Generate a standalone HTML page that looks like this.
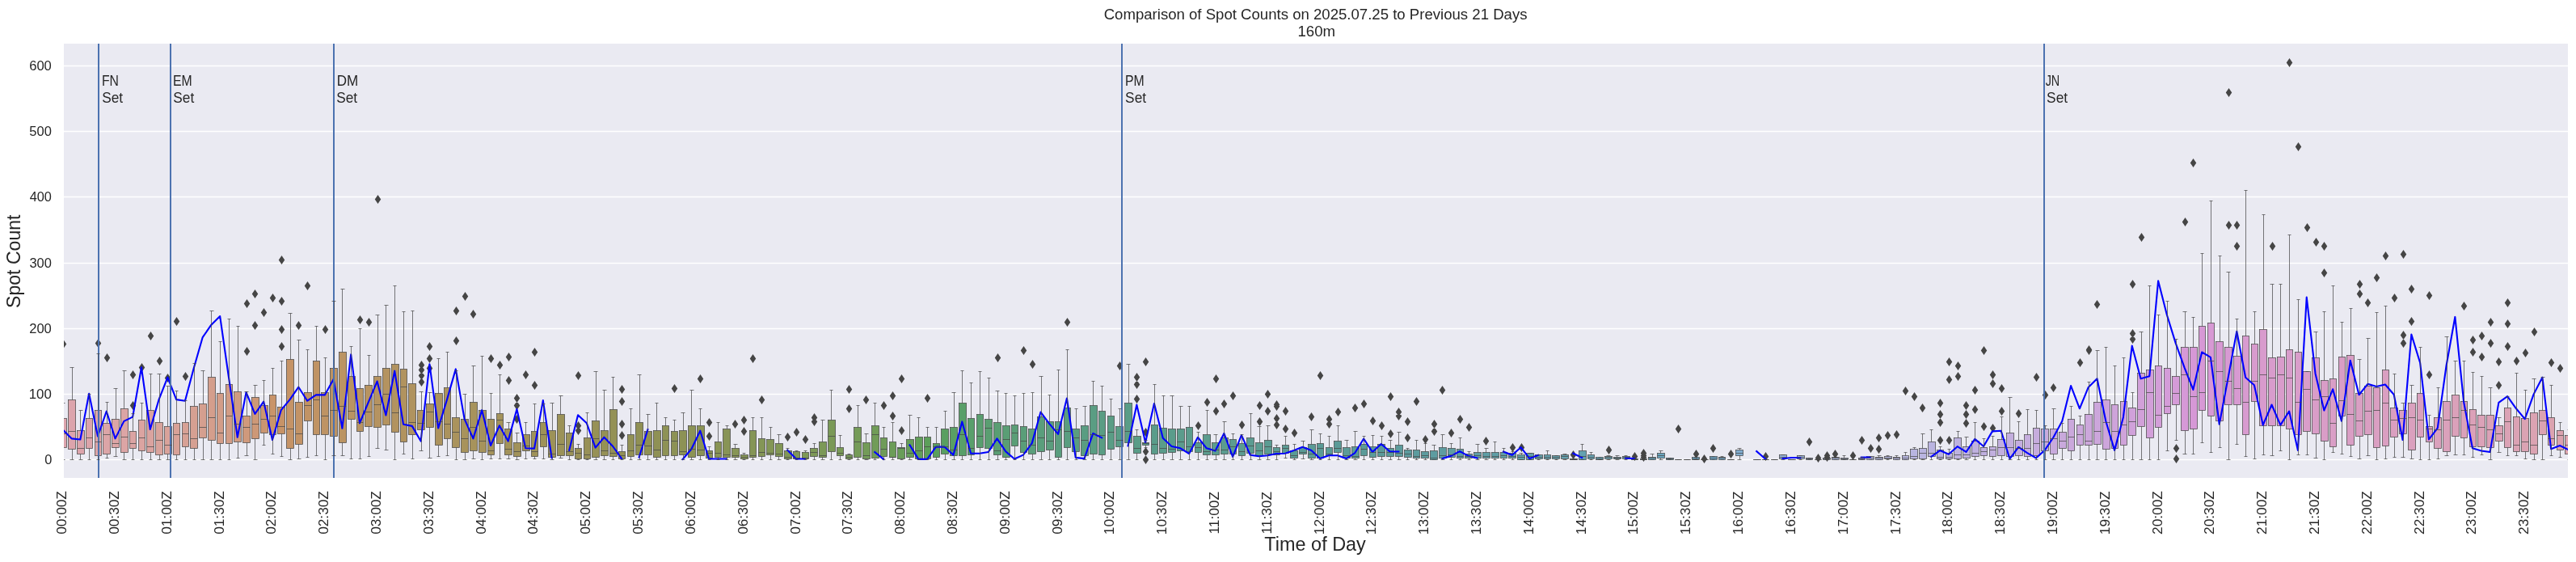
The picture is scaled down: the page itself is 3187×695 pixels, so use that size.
<!DOCTYPE html>
<html><head><meta charset="utf-8"><style>html,body{margin:0;padding:0;background:#fff;width:3187px;height:695px;overflow:hidden}</style></head><body>
<svg width="3187" height="695" viewBox="0 0 3187 695" style="display:block;will-change:transform">
<defs><clipPath id="c"><rect x="79" y="54" width="3098" height="537"/></clipPath></defs>
<rect x="0" y="0" width="3187" height="695" fill="#fff"/>
<rect x="79" y="54" width="3098" height="537" fill="#EAEAF2"/>
<path d="M79 568.50H3177M79 487.50H3177M79 406.50H3177M79 325.50H3177M79 243.50H3177M79 162.50H3177M79 81.50H3177" stroke="#fff" stroke-width="1.4" fill="none"/>
<g clip-path="url(#c)">
<rect x="73.50" y="517.50" width="9.00" height="36.00" fill="#dca4ad" stroke="#454545" stroke-width="0.72"/>
<rect x="84.50" y="494.50" width="9.00" height="61.00" fill="#dca4ac" stroke="#454545" stroke-width="0.72"/>
<rect x="95.50" y="532.50" width="9.00" height="29.00" fill="#dca4ab" stroke="#454545" stroke-width="0.72"/>
<rect x="106.50" y="517.50" width="8.00" height="37.00" fill="#dca4aa" stroke="#454545" stroke-width="0.72"/>
<rect x="117.50" y="507.50" width="8.00" height="56.00" fill="#dca5a8" stroke="#454545" stroke-width="0.72"/>
<rect x="127.50" y="523.50" width="9.00" height="38.00" fill="#dca5a7" stroke="#454545" stroke-width="0.72"/>
<rect x="138.50" y="518.50" width="9.00" height="35.00" fill="#dca5a6" stroke="#454545" stroke-width="0.72"/>
<rect x="149.50" y="505.50" width="9.00" height="54.00" fill="#dca5a5" stroke="#454545" stroke-width="0.72"/>
<rect x="160.50" y="533.50" width="8.00" height="21.00" fill="#dba4a3" stroke="#454545" stroke-width="0.72"/>
<rect x="171.50" y="519.50" width="8.00" height="38.00" fill="#dba4a1" stroke="#454545" stroke-width="0.72"/>
<rect x="181.50" y="507.50" width="9.00" height="52.00" fill="#daa39f" stroke="#454545" stroke-width="0.72"/>
<rect x="192.50" y="522.50" width="9.00" height="40.00" fill="#d9a39c" stroke="#454545" stroke-width="0.72"/>
<rect x="203.50" y="527.50" width="9.00" height="34.00" fill="#d9a29a" stroke="#454545" stroke-width="0.72"/>
<rect x="214.50" y="523.50" width="8.00" height="39.00" fill="#d8a197" stroke="#454545" stroke-width="0.72"/>
<rect x="225.50" y="522.50" width="8.00" height="30.00" fill="#d7a195" stroke="#454545" stroke-width="0.72"/>
<rect x="235.50" y="502.50" width="9.00" height="52.00" fill="#d6a092" stroke="#454545" stroke-width="0.72"/>
<rect x="246.50" y="499.50" width="9.00" height="42.00" fill="#d59f8f" stroke="#454545" stroke-width="0.72"/>
<rect x="257.50" y="466.50" width="9.00" height="78.00" fill="#d49e8c" stroke="#454545" stroke-width="0.72"/>
<rect x="268.50" y="486.50" width="8.00" height="62.00" fill="#d39d88" stroke="#454545" stroke-width="0.72"/>
<rect x="279.50" y="475.50" width="8.00" height="73.00" fill="#d29c85" stroke="#454545" stroke-width="0.72"/>
<rect x="289.50" y="484.50" width="9.00" height="62.00" fill="#d09b81" stroke="#454545" stroke-width="0.72"/>
<rect x="300.50" y="514.50" width="9.00" height="33.00" fill="#cf997c" stroke="#454545" stroke-width="0.72"/>
<rect x="311.50" y="491.50" width="9.00" height="51.00" fill="#cd9877" stroke="#454545" stroke-width="0.72"/>
<rect x="322.50" y="501.50" width="9.00" height="34.00" fill="#cb9671" stroke="#454545" stroke-width="0.72"/>
<rect x="333.50" y="488.50" width="8.00" height="49.00" fill="#c9946a" stroke="#454545" stroke-width="0.72"/>
<rect x="343.50" y="503.50" width="9.00" height="33.00" fill="#c79367" stroke="#454545" stroke-width="0.72"/>
<rect x="354.50" y="444.50" width="9.00" height="110.00" fill="#c59366" stroke="#454545" stroke-width="0.72"/>
<rect x="365.50" y="497.50" width="9.00" height="52.00" fill="#c39366" stroke="#454545" stroke-width="0.72"/>
<rect x="376.50" y="485.50" width="9.00" height="35.00" fill="#c19365" stroke="#454545" stroke-width="0.72"/>
<rect x="387.50" y="446.50" width="8.00" height="91.00" fill="#c09364" stroke="#454545" stroke-width="0.72"/>
<rect x="397.50" y="485.50" width="9.00" height="52.00" fill="#be9364" stroke="#454545" stroke-width="0.72"/>
<rect x="408.50" y="455.50" width="9.00" height="84.00" fill="#bd9363" stroke="#454545" stroke-width="0.72"/>
<rect x="419.50" y="435.50" width="9.00" height="112.00" fill="#bb9463" stroke="#454545" stroke-width="0.72"/>
<rect x="430.50" y="465.50" width="9.00" height="53.00" fill="#b99462" stroke="#454545" stroke-width="0.72"/>
<rect x="441.50" y="480.50" width="8.00" height="53.00" fill="#b89462" stroke="#454545" stroke-width="0.72"/>
<rect x="451.50" y="476.50" width="9.00" height="51.00" fill="#b79361" stroke="#454545" stroke-width="0.72"/>
<rect x="462.50" y="465.50" width="9.00" height="63.00" fill="#b59361" stroke="#454545" stroke-width="0.72"/>
<rect x="473.50" y="455.50" width="9.00" height="70.00" fill="#b49360" stroke="#454545" stroke-width="0.72"/>
<rect x="484.50" y="450.50" width="9.00" height="84.00" fill="#b29360" stroke="#454545" stroke-width="0.72"/>
<rect x="495.50" y="456.50" width="8.00" height="90.00" fill="#b1935f" stroke="#454545" stroke-width="0.72"/>
<rect x="505.50" y="474.50" width="9.00" height="63.00" fill="#b0935f" stroke="#454545" stroke-width="0.72"/>
<rect x="516.50" y="507.50" width="9.00" height="24.00" fill="#af935f" stroke="#454545" stroke-width="0.72"/>
<rect x="527.50" y="499.50" width="9.00" height="29.00" fill="#ad935e" stroke="#454545" stroke-width="0.72"/>
<rect x="538.50" y="486.50" width="9.00" height="64.00" fill="#ac935e" stroke="#454545" stroke-width="0.72"/>
<rect x="549.50" y="479.50" width="8.00" height="63.00" fill="#ab935d" stroke="#454545" stroke-width="0.72"/>
<rect x="559.50" y="516.50" width="9.00" height="37.00" fill="#aa935d" stroke="#454545" stroke-width="0.72"/>
<rect x="570.50" y="518.50" width="9.00" height="41.00" fill="#a8935c" stroke="#454545" stroke-width="0.72"/>
<rect x="581.50" y="497.50" width="9.00" height="60.00" fill="#a7935c" stroke="#454545" stroke-width="0.72"/>
<rect x="592.50" y="507.50" width="9.00" height="52.00" fill="#a6935c" stroke="#454545" stroke-width="0.72"/>
<rect x="603.50" y="518.50" width="8.00" height="44.00" fill="#a5935b" stroke="#454545" stroke-width="0.72"/>
<rect x="614.50" y="511.50" width="8.00" height="37.00" fill="#a4935b" stroke="#454545" stroke-width="0.72"/>
<rect x="624.50" y="530.50" width="9.00" height="32.00" fill="#a2925a" stroke="#454545" stroke-width="0.72"/>
<rect x="635.50" y="547.50" width="9.00" height="17.00" fill="#a1925a" stroke="#454545" stroke-width="0.72"/>
<rect x="646.50" y="537.50" width="9.00" height="20.00" fill="#a0925a" stroke="#454545" stroke-width="0.72"/>
<rect x="657.50" y="533.50" width="8.00" height="31.00" fill="#9f9259" stroke="#454545" stroke-width="0.72"/>
<rect x="668.50" y="522.50" width="8.00" height="30.00" fill="#9e9259" stroke="#454545" stroke-width="0.72"/>
<rect x="678.50" y="532.50" width="9.00" height="33.00" fill="#9d9258" stroke="#454545" stroke-width="0.72"/>
<rect x="689.50" y="512.50" width="9.00" height="51.00" fill="#9b9258" stroke="#454545" stroke-width="0.72"/>
<rect x="700.50" y="535.50" width="9.00" height="28.00" fill="#9a9258" stroke="#454545" stroke-width="0.72"/>
<rect x="711.50" y="554.50" width="8.00" height="13.00" fill="#999157" stroke="#454545" stroke-width="0.72"/>
<rect x="722.50" y="541.50" width="8.00" height="26.00" fill="#989157" stroke="#454545" stroke-width="0.72"/>
<rect x="732.50" y="520.50" width="9.00" height="45.00" fill="#979156" stroke="#454545" stroke-width="0.72"/>
<rect x="743.50" y="532.50" width="9.00" height="31.00" fill="#959156" stroke="#454545" stroke-width="0.72"/>
<rect x="754.50" y="506.50" width="9.00" height="58.00" fill="#949156" stroke="#454545" stroke-width="0.72"/>
<rect x="765.50" y="558.50" width="8.00" height="9.00" fill="#939155" stroke="#454545" stroke-width="0.72"/>
<rect x="776.50" y="537.50" width="8.00" height="27.00" fill="#929155" stroke="#454545" stroke-width="0.72"/>
<rect x="786.50" y="522.50" width="9.00" height="40.00" fill="#909054" stroke="#454545" stroke-width="0.72"/>
<rect x="797.50" y="533.50" width="9.00" height="29.00" fill="#909154" stroke="#454545" stroke-width="0.72"/>
<rect x="808.50" y="532.50" width="9.00" height="33.00" fill="#8f9155" stroke="#454545" stroke-width="0.72"/>
<rect x="819.50" y="526.50" width="8.00" height="37.00" fill="#8e9255" stroke="#454545" stroke-width="0.72"/>
<rect x="830.50" y="533.50" width="8.00" height="30.00" fill="#8d9255" stroke="#454545" stroke-width="0.72"/>
<rect x="840.50" y="532.50" width="9.00" height="30.00" fill="#8d9255" stroke="#454545" stroke-width="0.72"/>
<rect x="851.50" y="526.50" width="9.00" height="39.00" fill="#8c9355" stroke="#454545" stroke-width="0.72"/>
<rect x="862.50" y="526.50" width="9.00" height="37.00" fill="#8b9355" stroke="#454545" stroke-width="0.72"/>
<rect x="873.50" y="557.50" width="8.00" height="9.00" fill="#8a9355" stroke="#454545" stroke-width="0.72"/>
<rect x="884.50" y="546.50" width="8.00" height="19.00" fill="#899455" stroke="#454545" stroke-width="0.72"/>
<rect x="894.50" y="530.50" width="9.00" height="35.00" fill="#889456" stroke="#454545" stroke-width="0.72"/>
<rect x="905.50" y="554.50" width="9.00" height="11.00" fill="#879556" stroke="#454545" stroke-width="0.72"/>
<rect x="916.50" y="562.50" width="9.00" height="5.00" fill="#869556" stroke="#454545" stroke-width="0.72"/>
<rect x="927.50" y="532.50" width="8.00" height="33.00" fill="#859556" stroke="#454545" stroke-width="0.72"/>
<rect x="938.50" y="542.50" width="8.00" height="22.00" fill="#849656" stroke="#454545" stroke-width="0.72"/>
<rect x="948.50" y="543.50" width="9.00" height="19.00" fill="#839656" stroke="#454545" stroke-width="0.72"/>
<rect x="959.50" y="548.50" width="9.00" height="16.00" fill="#829756" stroke="#454545" stroke-width="0.72"/>
<rect x="970.50" y="557.50" width="9.00" height="10.00" fill="#819756" stroke="#454545" stroke-width="0.72"/>
<rect x="981.50" y="558.50" width="8.00" height="9.00" fill="#809757" stroke="#454545" stroke-width="0.72"/>
<rect x="992.50" y="559.50" width="8.00" height="8.00" fill="#7f9857" stroke="#454545" stroke-width="0.72"/>
<rect x="1002.50" y="554.50" width="9.00" height="10.00" fill="#7d9857" stroke="#454545" stroke-width="0.72"/>
<rect x="1013.50" y="546.50" width="9.00" height="19.00" fill="#7c9957" stroke="#454545" stroke-width="0.72"/>
<rect x="1024.50" y="519.50" width="9.00" height="39.00" fill="#7a9957" stroke="#454545" stroke-width="0.72"/>
<rect x="1035.50" y="553.50" width="8.00" height="10.00" fill="#799a57" stroke="#454545" stroke-width="0.72"/>
<rect x="1046.50" y="562.50" width="8.00" height="5.00" fill="#779a57" stroke="#454545" stroke-width="0.72"/>
<rect x="1056.50" y="528.50" width="9.00" height="37.00" fill="#759b58" stroke="#454545" stroke-width="0.72"/>
<rect x="1067.50" y="547.50" width="9.00" height="20.00" fill="#739b58" stroke="#454545" stroke-width="0.72"/>
<rect x="1078.50" y="526.50" width="9.00" height="40.00" fill="#719c58" stroke="#454545" stroke-width="0.72"/>
<rect x="1089.50" y="541.50" width="8.00" height="23.00" fill="#6f9c58" stroke="#454545" stroke-width="0.72"/>
<rect x="1100.50" y="546.50" width="8.00" height="19.00" fill="#6c9d58" stroke="#454545" stroke-width="0.72"/>
<rect x="1110.50" y="553.50" width="9.00" height="14.00" fill="#699d58" stroke="#454545" stroke-width="0.72"/>
<rect x="1121.50" y="543.50" width="9.00" height="22.00" fill="#659e59" stroke="#454545" stroke-width="0.72"/>
<rect x="1132.50" y="540.50" width="9.00" height="27.00" fill="#619e59" stroke="#454545" stroke-width="0.72"/>
<rect x="1143.50" y="540.50" width="8.00" height="27.00" fill="#5c9f59" stroke="#454545" stroke-width="0.72"/>
<rect x="1154.50" y="548.50" width="8.00" height="17.00" fill="#599f5c" stroke="#454545" stroke-width="0.72"/>
<rect x="1164.50" y="530.50" width="9.00" height="31.00" fill="#599f61" stroke="#454545" stroke-width="0.72"/>
<rect x="1175.50" y="528.50" width="9.00" height="35.00" fill="#599f65" stroke="#454545" stroke-width="0.72"/>
<rect x="1186.50" y="498.50" width="9.00" height="65.00" fill="#599f69" stroke="#454545" stroke-width="0.72"/>
<rect x="1197.50" y="517.50" width="8.00" height="45.00" fill="#599f6c" stroke="#454545" stroke-width="0.72"/>
<rect x="1208.50" y="512.50" width="8.00" height="41.00" fill="#599e6f" stroke="#454545" stroke-width="0.72"/>
<rect x="1218.50" y="518.50" width="9.00" height="36.00" fill="#5a9e71" stroke="#454545" stroke-width="0.72"/>
<rect x="1229.50" y="522.50" width="9.00" height="40.00" fill="#5a9e73" stroke="#454545" stroke-width="0.72"/>
<rect x="1240.50" y="526.50" width="9.00" height="39.00" fill="#5a9e75" stroke="#454545" stroke-width="0.72"/>
<rect x="1251.50" y="525.50" width="8.00" height="26.00" fill="#5a9e77" stroke="#454545" stroke-width="0.72"/>
<rect x="1262.50" y="527.50" width="8.00" height="32.00" fill="#5a9e79" stroke="#454545" stroke-width="0.72"/>
<rect x="1272.50" y="530.50" width="9.00" height="31.00" fill="#5a9e7b" stroke="#454545" stroke-width="0.72"/>
<rect x="1283.50" y="515.50" width="9.00" height="43.00" fill="#5a9e7c" stroke="#454545" stroke-width="0.72"/>
<rect x="1294.50" y="521.50" width="9.00" height="35.00" fill="#5a9d7d" stroke="#454545" stroke-width="0.72"/>
<rect x="1305.50" y="521.50" width="8.00" height="44.00" fill="#5a9d7f" stroke="#454545" stroke-width="0.72"/>
<rect x="1316.50" y="504.50" width="8.00" height="49.00" fill="#5a9d80" stroke="#454545" stroke-width="0.72"/>
<rect x="1326.50" y="530.50" width="9.00" height="28.00" fill="#5a9d81" stroke="#454545" stroke-width="0.72"/>
<rect x="1337.50" y="526.50" width="9.00" height="37.00" fill="#5a9d82" stroke="#454545" stroke-width="0.72"/>
<rect x="1348.50" y="501.50" width="9.00" height="60.00" fill="#5a9d83" stroke="#454545" stroke-width="0.72"/>
<rect x="1359.50" y="508.50" width="8.00" height="54.00" fill="#5a9d84" stroke="#454545" stroke-width="0.72"/>
<rect x="1370.50" y="514.50" width="8.00" height="41.00" fill="#5a9d85" stroke="#454545" stroke-width="0.72"/>
<rect x="1380.50" y="527.50" width="9.00" height="25.00" fill="#5a9d86" stroke="#454545" stroke-width="0.72"/>
<rect x="1391.50" y="498.50" width="9.00" height="49.00" fill="#5a9d87" stroke="#454545" stroke-width="0.72"/>
<rect x="1402.50" y="539.50" width="9.00" height="21.00" fill="#5a9d88" stroke="#454545" stroke-width="0.72"/>
<rect x="1413.50" y="547.50" width="8.00" height="3.00" fill="#5a9d89" stroke="#454545" stroke-width="0.72"/>
<rect x="1424.50" y="525.50" width="8.00" height="36.00" fill="#5a9c8a" stroke="#454545" stroke-width="0.72"/>
<rect x="1434.50" y="529.50" width="9.00" height="31.00" fill="#5a9c8b" stroke="#454545" stroke-width="0.72"/>
<rect x="1445.50" y="530.50" width="9.00" height="29.00" fill="#5a9c8b" stroke="#454545" stroke-width="0.72"/>
<rect x="1456.50" y="530.50" width="9.00" height="27.00" fill="#5b9c8c" stroke="#454545" stroke-width="0.72"/>
<rect x="1467.50" y="528.50" width="8.00" height="30.00" fill="#5b9c8d" stroke="#454545" stroke-width="0.72"/>
<rect x="1478.50" y="547.50" width="8.00" height="12.00" fill="#5b9c8e" stroke="#454545" stroke-width="0.72"/>
<rect x="1488.50" y="537.50" width="9.00" height="25.00" fill="#5b9c8e" stroke="#454545" stroke-width="0.72"/>
<rect x="1499.50" y="547.50" width="9.00" height="15.00" fill="#5b9c8f" stroke="#454545" stroke-width="0.72"/>
<rect x="1510.50" y="541.50" width="9.00" height="20.00" fill="#5b9c90" stroke="#454545" stroke-width="0.72"/>
<rect x="1521.50" y="543.50" width="8.00" height="18.00" fill="#5b9c90" stroke="#454545" stroke-width="0.72"/>
<rect x="1532.50" y="548.50" width="8.00" height="15.00" fill="#5b9c91" stroke="#454545" stroke-width="0.72"/>
<rect x="1542.50" y="541.50" width="9.00" height="19.00" fill="#5b9c92" stroke="#454545" stroke-width="0.72"/>
<rect x="1553.50" y="547.50" width="9.00" height="16.00" fill="#5b9c92" stroke="#454545" stroke-width="0.72"/>
<rect x="1564.50" y="544.50" width="9.00" height="17.00" fill="#5b9c93" stroke="#454545" stroke-width="0.72"/>
<rect x="1575.50" y="553.50" width="8.00" height="9.00" fill="#5b9b94" stroke="#454545" stroke-width="0.72"/>
<rect x="1586.50" y="550.50" width="8.00" height="10.00" fill="#5b9b94" stroke="#454545" stroke-width="0.72"/>
<rect x="1596.50" y="557.50" width="9.00" height="9.00" fill="#5b9b95" stroke="#454545" stroke-width="0.72"/>
<rect x="1607.50" y="553.50" width="9.00" height="8.00" fill="#5b9b95" stroke="#454545" stroke-width="0.72"/>
<rect x="1618.50" y="549.50" width="9.00" height="17.00" fill="#5b9b96" stroke="#454545" stroke-width="0.72"/>
<rect x="1629.50" y="548.50" width="8.00" height="18.00" fill="#5b9b96" stroke="#454545" stroke-width="0.72"/>
<rect x="1640.50" y="553.50" width="8.00" height="10.00" fill="#5b9b97" stroke="#454545" stroke-width="0.72"/>
<rect x="1650.50" y="545.50" width="9.00" height="14.00" fill="#5b9b98" stroke="#454545" stroke-width="0.72"/>
<rect x="1661.50" y="553.50" width="9.00" height="13.00" fill="#5b9b98" stroke="#454545" stroke-width="0.72"/>
<rect x="1672.50" y="552.50" width="9.00" height="14.00" fill="#5b9b99" stroke="#454545" stroke-width="0.72"/>
<rect x="1683.50" y="549.50" width="8.00" height="14.00" fill="#5b9b99" stroke="#454545" stroke-width="0.72"/>
<rect x="1694.50" y="552.50" width="8.00" height="13.00" fill="#5b9b9a" stroke="#454545" stroke-width="0.72"/>
<rect x="1704.50" y="549.50" width="9.00" height="15.00" fill="#5b9b9a" stroke="#454545" stroke-width="0.72"/>
<rect x="1715.50" y="554.50" width="9.00" height="10.00" fill="#5b9b9b" stroke="#454545" stroke-width="0.72"/>
<rect x="1726.50" y="550.50" width="9.00" height="14.00" fill="#5c9b9c" stroke="#454545" stroke-width="0.72"/>
<rect x="1737.50" y="556.50" width="9.00" height="9.00" fill="#5c9b9d" stroke="#454545" stroke-width="0.72"/>
<rect x="1748.50" y="556.50" width="8.00" height="10.00" fill="#5c9c9e" stroke="#454545" stroke-width="0.72"/>
<rect x="1758.50" y="558.50" width="9.00" height="8.00" fill="#5d9c9f" stroke="#454545" stroke-width="0.72"/>
<rect x="1769.50" y="557.50" width="9.00" height="11.00" fill="#5d9ca0" stroke="#454545" stroke-width="0.72"/>
<rect x="1780.50" y="553.50" width="9.00" height="13.00" fill="#5e9ca1" stroke="#454545" stroke-width="0.72"/>
<rect x="1791.50" y="554.50" width="9.00" height="11.00" fill="#5e9da2" stroke="#454545" stroke-width="0.72"/>
<rect x="1802.50" y="555.50" width="8.00" height="11.00" fill="#5e9da2" stroke="#454545" stroke-width="0.72"/>
<rect x="1812.50" y="561.50" width="9.00" height="5.00" fill="#5f9da3" stroke="#454545" stroke-width="0.72"/>
<rect x="1823.50" y="559.50" width="9.00" height="7.00" fill="#5f9da4" stroke="#454545" stroke-width="0.72"/>
<rect x="1834.50" y="559.50" width="9.00" height="7.00" fill="#5f9ea5" stroke="#454545" stroke-width="0.72"/>
<rect x="1845.50" y="559.50" width="9.00" height="7.00" fill="#609ea6" stroke="#454545" stroke-width="0.72"/>
<rect x="1856.50" y="559.50" width="8.00" height="7.00" fill="#609ea7" stroke="#454545" stroke-width="0.72"/>
<rect x="1866.50" y="560.50" width="9.00" height="6.00" fill="#619ea8" stroke="#454545" stroke-width="0.72"/>
<rect x="1877.50" y="562.50" width="9.00" height="6.00" fill="#619fa9" stroke="#454545" stroke-width="0.72"/>
<rect x="1888.50" y="560.50" width="9.00" height="8.00" fill="#619faa" stroke="#454545" stroke-width="0.72"/>
<rect x="1899.50" y="562.50" width="9.00" height="5.00" fill="#629fab" stroke="#454545" stroke-width="0.72"/>
<rect x="1910.50" y="562.50" width="8.00" height="5.00" fill="#629fac" stroke="#454545" stroke-width="0.72"/>
<rect x="1920.50" y="563.50" width="9.00" height="4.00" fill="#63a0ad" stroke="#454545" stroke-width="0.72"/>
<rect x="1931.50" y="562.50" width="9.00" height="5.00" fill="#63a0af" stroke="#454545" stroke-width="0.72"/>
<rect x="1942.50" y="567.50" width="9.00" height="1.00" fill="#64a0b0" stroke="#454545" stroke-width="0.72"/>
<rect x="1953.50" y="557.50" width="9.00" height="11.00" fill="#64a1b1" stroke="#454545" stroke-width="0.72"/>
<rect x="1964.50" y="562.50" width="8.00" height="5.00" fill="#65a1b2" stroke="#454545" stroke-width="0.72"/>
<rect x="1974.50" y="565.50" width="9.00" height="3.00" fill="#65a1b3" stroke="#454545" stroke-width="0.72"/>
<rect x="1985.50" y="564.50" width="9.00" height="3.00" fill="#66a2b5" stroke="#454545" stroke-width="0.72"/>
<rect x="1996.50" y="565.50" width="9.00" height="2.00" fill="#66a2b6" stroke="#454545" stroke-width="0.72"/>
<rect x="2007.50" y="564.50" width="9.00" height="3.00" fill="#67a2b7" stroke="#454545" stroke-width="0.72"/>
<rect x="2018.50" y="567.50" width="8.00" height="1.00" fill="#67a3b9" stroke="#454545" stroke-width="0.72"/>
<rect x="2029.50" y="567.50" width="8.00" height="1.00" fill="#68a3ba" stroke="#454545" stroke-width="0.72"/>
<rect x="2039.50" y="565.50" width="9.00" height="3.00" fill="#68a4bc" stroke="#454545" stroke-width="0.72"/>
<rect x="2050.50" y="560.50" width="9.00" height="6.00" fill="#69a4bd" stroke="#454545" stroke-width="0.72"/>
<rect x="2061.50" y="566.50" width="9.00" height="2.00" fill="#6aa4bf" stroke="#454545" stroke-width="0.72"/>
<rect x="2072.50" y="568.50" width="8.00" height="0.01" fill="#6ba5c1" stroke="#454545" stroke-width="0.72"/>
<rect x="2083.50" y="568.50" width="8.00" height="0.01" fill="#6ba5c3" stroke="#454545" stroke-width="0.72"/>
<rect x="2093.50" y="565.50" width="9.00" height="3.00" fill="#6ca6c5" stroke="#454545" stroke-width="0.72"/>
<rect x="2104.50" y="568.50" width="9.00" height="0.01" fill="#6da6c7" stroke="#454545" stroke-width="0.72"/>
<rect x="2115.50" y="564.50" width="9.00" height="4.00" fill="#6ea7c9" stroke="#454545" stroke-width="0.72"/>
<rect x="2126.50" y="565.50" width="8.00" height="3.00" fill="#75a9cb" stroke="#454545" stroke-width="0.72"/>
<rect x="2137.50" y="568.50" width="8.00" height="0.01" fill="#7baacd" stroke="#454545" stroke-width="0.72"/>
<rect x="2147.50" y="556.50" width="9.00" height="7.00" fill="#80accf" stroke="#454545" stroke-width="0.72"/>
<rect x="2169.50" y="568.50" width="9.00" height="0.01" fill="#89aed2" stroke="#454545" stroke-width="0.72"/>
<rect x="2180.50" y="568.50" width="8.00" height="0.01" fill="#8dafd3" stroke="#454545" stroke-width="0.72"/>
<rect x="2191.50" y="568.50" width="8.00" height="0.01" fill="#91b0d4" stroke="#454545" stroke-width="0.72"/>
<rect x="2201.50" y="562.50" width="9.00" height="5.00" fill="#94b0d5" stroke="#454545" stroke-width="0.72"/>
<rect x="2212.50" y="568.50" width="9.00" height="0.01" fill="#98b1d7" stroke="#454545" stroke-width="0.72"/>
<rect x="2223.50" y="563.50" width="9.00" height="4.00" fill="#9bb2d8" stroke="#454545" stroke-width="0.72"/>
<rect x="2234.50" y="566.50" width="8.00" height="2.00" fill="#9eb2d9" stroke="#454545" stroke-width="0.72"/>
<rect x="2245.50" y="568.50" width="8.00" height="0.01" fill="#a0b3d9" stroke="#454545" stroke-width="0.72"/>
<rect x="2255.50" y="566.50" width="9.00" height="2.00" fill="#a3b3da" stroke="#454545" stroke-width="0.72"/>
<rect x="2266.50" y="565.50" width="9.00" height="3.00" fill="#a6b4db" stroke="#454545" stroke-width="0.72"/>
<rect x="2277.50" y="566.50" width="9.00" height="2.00" fill="#a8b4dc" stroke="#454545" stroke-width="0.72"/>
<rect x="2288.50" y="568.50" width="8.00" height="0.01" fill="#aab5dd" stroke="#454545" stroke-width="0.72"/>
<rect x="2299.50" y="566.50" width="8.00" height="2.00" fill="#adb5de" stroke="#454545" stroke-width="0.72"/>
<rect x="2309.50" y="564.50" width="9.00" height="4.00" fill="#afb5de" stroke="#454545" stroke-width="0.72"/>
<rect x="2320.50" y="565.50" width="9.00" height="3.00" fill="#b1b6df" stroke="#454545" stroke-width="0.72"/>
<rect x="2331.50" y="564.50" width="9.00" height="3.00" fill="#b3b6e0" stroke="#454545" stroke-width="0.72"/>
<rect x="2342.50" y="565.50" width="8.00" height="3.00" fill="#b5b6e0" stroke="#454545" stroke-width="0.72"/>
<rect x="2353.50" y="563.50" width="8.00" height="5.00" fill="#b7b6e1" stroke="#454545" stroke-width="0.72"/>
<rect x="2363.50" y="555.50" width="9.00" height="12.00" fill="#b8b5e0" stroke="#454545" stroke-width="0.72"/>
<rect x="2374.50" y="554.50" width="9.00" height="13.00" fill="#b9b5e0" stroke="#454545" stroke-width="0.72"/>
<rect x="2385.50" y="546.50" width="9.00" height="18.00" fill="#bab4e0" stroke="#454545" stroke-width="0.72"/>
<rect x="2396.50" y="556.50" width="8.00" height="11.00" fill="#bbb3e0" stroke="#454545" stroke-width="0.72"/>
<rect x="2407.50" y="560.50" width="8.00" height="7.00" fill="#bcb3e0" stroke="#454545" stroke-width="0.72"/>
<rect x="2417.50" y="541.50" width="9.00" height="26.00" fill="#bdb2df" stroke="#454545" stroke-width="0.72"/>
<rect x="2428.50" y="552.50" width="9.00" height="14.00" fill="#beb2df" stroke="#454545" stroke-width="0.72"/>
<rect x="2439.50" y="545.50" width="9.00" height="19.00" fill="#bfb1df" stroke="#454545" stroke-width="0.72"/>
<rect x="2450.50" y="553.50" width="8.00" height="10.00" fill="#c0b0df" stroke="#454545" stroke-width="0.72"/>
<rect x="2461.50" y="552.50" width="8.00" height="12.00" fill="#c1afde" stroke="#454545" stroke-width="0.72"/>
<rect x="2471.50" y="543.50" width="9.00" height="20.00" fill="#c2afde" stroke="#454545" stroke-width="0.72"/>
<rect x="2482.50" y="535.50" width="9.00" height="29.00" fill="#c3aede" stroke="#454545" stroke-width="0.72"/>
<rect x="2493.50" y="544.50" width="9.00" height="19.00" fill="#c4adde" stroke="#454545" stroke-width="0.72"/>
<rect x="2504.50" y="537.50" width="8.00" height="27.00" fill="#c5addd" stroke="#454545" stroke-width="0.72"/>
<rect x="2515.50" y="529.50" width="8.00" height="34.00" fill="#c6acdd" stroke="#454545" stroke-width="0.72"/>
<rect x="2525.50" y="530.50" width="9.00" height="27.00" fill="#c7abdd" stroke="#454545" stroke-width="0.72"/>
<rect x="2536.50" y="530.50" width="9.00" height="31.00" fill="#c8aadd" stroke="#454545" stroke-width="0.72"/>
<rect x="2547.50" y="534.50" width="9.00" height="20.00" fill="#c9a9dc" stroke="#454545" stroke-width="0.72"/>
<rect x="2558.50" y="518.50" width="8.00" height="39.00" fill="#caa8dc" stroke="#454545" stroke-width="0.72"/>
<rect x="2569.50" y="525.50" width="8.00" height="25.00" fill="#cba8dc" stroke="#454545" stroke-width="0.72"/>
<rect x="2579.50" y="512.50" width="9.00" height="38.00" fill="#cca7db" stroke="#454545" stroke-width="0.72"/>
<rect x="2590.50" y="497.50" width="9.00" height="52.00" fill="#cca6db" stroke="#454545" stroke-width="0.72"/>
<rect x="2601.50" y="494.50" width="9.00" height="61.00" fill="#cda5db" stroke="#454545" stroke-width="0.72"/>
<rect x="2612.50" y="500.50" width="8.00" height="54.00" fill="#cea4da" stroke="#454545" stroke-width="0.72"/>
<rect x="2623.50" y="496.50" width="8.00" height="54.00" fill="#cfa3da" stroke="#454545" stroke-width="0.72"/>
<rect x="2633.50" y="504.50" width="9.00" height="34.00" fill="#d0a1da" stroke="#454545" stroke-width="0.72"/>
<rect x="2644.50" y="461.50" width="9.00" height="66.00" fill="#d1a0d9" stroke="#454545" stroke-width="0.72"/>
<rect x="2655.50" y="457.50" width="9.00" height="84.00" fill="#d29fd9" stroke="#454545" stroke-width="0.72"/>
<rect x="2666.50" y="452.50" width="8.00" height="76.00" fill="#d39ed8" stroke="#454545" stroke-width="0.72"/>
<rect x="2677.50" y="455.50" width="8.00" height="56.00" fill="#d49cd8" stroke="#454545" stroke-width="0.72"/>
<rect x="2687.50" y="465.50" width="9.00" height="35.00" fill="#d59bd8" stroke="#454545" stroke-width="0.72"/>
<rect x="2698.50" y="429.50" width="9.00" height="103.00" fill="#d699d7" stroke="#454545" stroke-width="0.72"/>
<rect x="2709.50" y="429.50" width="9.00" height="101.00" fill="#d698d6" stroke="#454545" stroke-width="0.72"/>
<rect x="2720.50" y="403.50" width="8.00" height="104.00" fill="#d798d5" stroke="#454545" stroke-width="0.72"/>
<rect x="2731.50" y="399.50" width="8.00" height="115.00" fill="#d799d4" stroke="#454545" stroke-width="0.72"/>
<rect x="2741.50" y="422.50" width="9.00" height="98.00" fill="#d799d3" stroke="#454545" stroke-width="0.72"/>
<rect x="2752.50" y="429.50" width="9.00" height="71.00" fill="#d79ad2" stroke="#454545" stroke-width="0.72"/>
<rect x="2763.50" y="440.50" width="9.00" height="60.00" fill="#d79ad1" stroke="#454545" stroke-width="0.72"/>
<rect x="2774.50" y="415.50" width="8.00" height="122.00" fill="#d89bd0" stroke="#454545" stroke-width="0.72"/>
<rect x="2785.50" y="425.50" width="8.00" height="71.00" fill="#d89bce" stroke="#454545" stroke-width="0.72"/>
<rect x="2795.50" y="407.50" width="9.00" height="119.00" fill="#d89bcd" stroke="#454545" stroke-width="0.72"/>
<rect x="2806.50" y="442.50" width="9.00" height="84.00" fill="#d89ccc" stroke="#454545" stroke-width="0.72"/>
<rect x="2817.50" y="441.50" width="9.00" height="85.00" fill="#d89ccb" stroke="#454545" stroke-width="0.72"/>
<rect x="2828.50" y="432.50" width="8.00" height="98.00" fill="#d89ccb" stroke="#454545" stroke-width="0.72"/>
<rect x="2839.50" y="435.50" width="8.00" height="102.00" fill="#d99dca" stroke="#454545" stroke-width="0.72"/>
<rect x="2849.50" y="459.50" width="9.00" height="74.00" fill="#d99dc9" stroke="#454545" stroke-width="0.72"/>
<rect x="2860.50" y="442.50" width="9.00" height="94.00" fill="#d99dc8" stroke="#454545" stroke-width="0.72"/>
<rect x="2871.50" y="470.50" width="9.00" height="75.00" fill="#d99dc7" stroke="#454545" stroke-width="0.72"/>
<rect x="2882.50" y="468.50" width="8.00" height="84.00" fill="#d99ec6" stroke="#454545" stroke-width="0.72"/>
<rect x="2893.50" y="441.50" width="8.00" height="73.00" fill="#d99ec5" stroke="#454545" stroke-width="0.72"/>
<rect x="2903.50" y="439.50" width="9.00" height="111.00" fill="#d99ec4" stroke="#454545" stroke-width="0.72"/>
<rect x="2914.50" y="486.50" width="9.00" height="53.00" fill="#d99fc3" stroke="#454545" stroke-width="0.72"/>
<rect x="2925.50" y="477.50" width="9.00" height="60.00" fill="#d99fc2" stroke="#454545" stroke-width="0.72"/>
<rect x="2936.50" y="479.50" width="8.00" height="74.00" fill="#da9fc2" stroke="#454545" stroke-width="0.72"/>
<rect x="2947.50" y="457.50" width="8.00" height="94.00" fill="#da9fc1" stroke="#454545" stroke-width="0.72"/>
<rect x="2957.50" y="504.50" width="9.00" height="36.00" fill="#da9fc0" stroke="#454545" stroke-width="0.72"/>
<rect x="2968.50" y="507.50" width="9.00" height="29.00" fill="#daa0bf" stroke="#454545" stroke-width="0.72"/>
<rect x="2979.50" y="498.50" width="9.00" height="58.00" fill="#daa0be" stroke="#454545" stroke-width="0.72"/>
<rect x="2990.50" y="486.50" width="8.00" height="54.00" fill="#daa0bd" stroke="#454545" stroke-width="0.72"/>
<rect x="3001.50" y="527.50" width="8.00" height="19.00" fill="#daa0bd" stroke="#454545" stroke-width="0.72"/>
<rect x="3011.50" y="516.50" width="9.00" height="38.00" fill="#daa1bc" stroke="#454545" stroke-width="0.72"/>
<rect x="3022.50" y="496.50" width="9.00" height="62.00" fill="#daa1bb" stroke="#454545" stroke-width="0.72"/>
<rect x="3033.50" y="488.50" width="9.00" height="51.00" fill="#daa1ba" stroke="#454545" stroke-width="0.72"/>
<rect x="3044.50" y="496.50" width="8.00" height="45.00" fill="#daa1b9" stroke="#454545" stroke-width="0.72"/>
<rect x="3055.50" y="506.50" width="8.00" height="46.00" fill="#dba1b8" stroke="#454545" stroke-width="0.72"/>
<rect x="3065.50" y="513.50" width="9.00" height="39.00" fill="#dba2b8" stroke="#454545" stroke-width="0.72"/>
<rect x="3076.50" y="513.50" width="9.00" height="40.00" fill="#dba2b7" stroke="#454545" stroke-width="0.72"/>
<rect x="3087.50" y="526.50" width="9.00" height="19.00" fill="#dba2b6" stroke="#454545" stroke-width="0.72"/>
<rect x="3098.50" y="504.50" width="8.00" height="49.00" fill="#dba2b5" stroke="#454545" stroke-width="0.72"/>
<rect x="3109.50" y="515.50" width="8.00" height="43.00" fill="#dba2b4" stroke="#454545" stroke-width="0.72"/>
<rect x="3119.50" y="517.50" width="9.00" height="41.00" fill="#dba3b3" stroke="#454545" stroke-width="0.72"/>
<rect x="3130.50" y="510.50" width="9.00" height="51.00" fill="#dba3b2" stroke="#454545" stroke-width="0.72"/>
<rect x="3141.50" y="507.50" width="9.00" height="30.00" fill="#dba3b1" stroke="#454545" stroke-width="0.72"/>
<rect x="3152.50" y="516.50" width="8.00" height="34.00" fill="#dba3b0" stroke="#454545" stroke-width="0.72"/>
<rect x="3163.50" y="532.50" width="8.00" height="24.00" fill="#dba3af" stroke="#454545" stroke-width="0.72"/>
<rect x="3173.50" y="538.50" width="9.00" height="23.00" fill="#dca4ae" stroke="#454545" stroke-width="0.72"/>
<path d="M78.50 419.90L82.25 425.50L78.50 431.10L74.75 425.50ZM121.50 418.90L125.25 424.50L121.50 430.10L117.75 424.50ZM132.50 436.90L136.25 442.50L132.50 448.10L128.75 442.50ZM164.50 457.90L168.25 463.50L164.50 469.10L160.75 463.50ZM164.50 495.90L168.25 501.50L164.50 507.10L160.75 501.50ZM175.50 448.90L179.25 454.50L175.50 460.10L171.75 454.50ZM186.50 409.90L190.25 415.50L186.50 421.10L182.75 415.50ZM197.50 440.90L201.25 446.50L197.50 452.10L193.75 446.50ZM207.50 461.90L211.25 467.50L207.50 473.10L203.75 467.50ZM218.50 391.90L222.25 397.50L218.50 403.10L214.75 397.50ZM229.50 459.90L233.25 465.50L229.50 471.10L225.75 465.50ZM305.50 428.90L309.25 434.50L305.50 440.10L301.75 434.50ZM305.50 369.90L309.25 375.50L305.50 381.10L301.75 375.50ZM315.50 396.90L319.25 402.50L315.50 408.10L311.75 402.50ZM315.50 357.90L319.25 363.50L315.50 369.10L311.75 363.50ZM326.50 380.90L330.25 386.50L326.50 392.10L322.75 386.50ZM337.50 362.90L341.25 368.50L337.50 374.10L333.75 368.50ZM348.50 401.90L352.25 407.50L348.50 413.10L344.75 407.50ZM348.50 422.90L352.25 428.50L348.50 434.10L344.75 428.50ZM348.50 315.90L352.25 321.50L348.50 327.10L344.75 321.50ZM348.50 366.90L352.25 372.50L348.50 378.10L344.75 372.50ZM369.50 396.90L373.25 402.50L369.50 408.10L365.75 402.50ZM380.50 347.90L384.25 353.50L380.50 359.10L376.75 353.50ZM402.50 401.90L406.25 407.50L402.50 413.10L398.75 407.50ZM445.50 389.90L449.25 395.50L445.50 401.10L441.75 395.50ZM456.50 392.90L460.25 398.50L456.50 404.10L452.75 398.50ZM467.50 240.90L471.25 246.50L467.50 252.10L463.75 246.50ZM521.50 445.90L525.25 451.50L521.50 457.10L517.75 451.50ZM521.50 451.90L525.25 457.50L521.50 463.10L517.75 457.50ZM521.50 458.90L525.25 464.50L521.50 470.10L517.75 464.50ZM521.50 466.90L525.25 472.50L521.50 478.10L517.75 472.50ZM531.50 422.90L535.25 428.50L531.50 434.10L527.75 428.50ZM531.50 437.90L535.25 443.50L531.50 449.10L527.75 443.50ZM531.50 449.90L535.25 455.50L531.50 461.10L527.75 455.50ZM564.50 415.90L568.25 421.50L564.50 427.10L560.75 421.50ZM564.50 378.90L568.25 384.50L564.50 390.10L560.75 384.50ZM575.50 360.90L579.25 366.50L575.50 372.10L571.75 366.50ZM585.50 382.90L589.25 388.50L585.50 394.10L581.75 388.50ZM607.50 437.90L611.25 443.50L607.50 449.10L603.75 443.50ZM618.50 445.90L622.25 451.50L618.50 457.10L614.75 451.50ZM629.50 435.90L633.25 441.50L629.50 447.10L625.75 441.50ZM629.50 464.90L633.25 470.50L629.50 476.10L625.75 470.50ZM639.50 486.90L643.25 492.50L639.50 498.10L635.75 492.50ZM639.50 495.90L643.25 501.50L639.50 507.10L635.75 501.50ZM639.50 512.90L643.25 518.50L639.50 524.10L635.75 518.50ZM650.50 457.90L654.25 463.50L650.50 469.10L646.75 463.50ZM661.50 429.90L665.25 435.50L661.50 441.10L657.75 435.50ZM661.50 470.90L665.25 476.50L661.50 482.10L657.75 476.50ZM715.50 458.90L719.25 464.50L715.50 470.10L711.75 464.50ZM715.50 520.90L719.25 526.50L715.50 532.10L711.75 526.50ZM715.50 526.90L719.25 532.50L715.50 538.10L711.75 532.50ZM769.50 475.90L773.25 481.50L769.50 487.10L765.75 481.50ZM769.50 490.90L773.25 496.50L769.50 502.10L765.75 496.50ZM769.50 518.90L773.25 524.50L769.50 530.10L765.75 524.50ZM769.50 532.90L773.25 538.50L769.50 544.10L765.75 538.50ZM834.50 474.90L838.25 480.50L834.50 486.10L830.75 480.50ZM866.50 462.90L870.25 468.50L866.50 474.10L862.75 468.50ZM877.50 516.90L881.25 522.50L877.50 528.10L873.75 522.50ZM877.50 533.90L881.25 539.50L877.50 545.10L873.75 539.50ZM909.50 518.90L913.25 524.50L909.50 530.10L905.75 524.50ZM920.50 513.90L924.25 519.50L920.50 525.10L916.75 519.50ZM920.50 527.90L924.25 533.50L920.50 539.10L916.75 533.50ZM931.50 437.90L935.25 443.50L931.50 449.10L927.75 443.50ZM942.50 488.90L946.25 494.50L942.50 500.10L938.75 494.50ZM974.50 534.90L978.25 540.50L974.50 546.10L970.75 540.50ZM985.50 528.90L989.25 534.50L985.50 540.10L981.75 534.50ZM996.50 537.90L1000.25 543.50L996.50 549.10L992.75 543.50ZM1007.50 510.90L1011.25 516.50L1007.50 522.10L1003.75 516.50ZM1007.50 515.90L1011.25 521.50L1007.50 527.10L1003.75 521.50ZM1050.50 475.90L1054.25 481.50L1050.50 487.10L1046.75 481.50ZM1050.50 499.90L1054.25 505.50L1050.50 511.10L1046.75 505.50ZM1071.50 488.90L1075.25 494.50L1071.50 500.10L1067.75 494.50ZM1093.50 495.90L1097.25 501.50L1093.50 507.10L1089.75 501.50ZM1104.50 483.90L1108.25 489.50L1104.50 495.10L1100.75 489.50ZM1104.50 508.90L1108.25 514.50L1104.50 520.10L1100.75 514.50ZM1115.50 462.90L1119.25 468.50L1115.50 474.10L1111.75 468.50ZM1115.50 526.90L1119.25 532.50L1115.50 538.10L1111.75 532.50ZM1147.50 486.90L1151.25 492.50L1147.50 498.10L1143.75 492.50ZM1234.50 436.90L1238.25 442.50L1234.50 448.10L1230.75 442.50ZM1266.50 427.90L1270.25 433.50L1266.50 439.10L1262.75 433.50ZM1277.50 444.90L1281.25 450.50L1277.50 456.10L1273.75 450.50ZM1320.50 392.90L1324.25 398.50L1320.50 404.10L1316.75 398.50ZM1385.50 446.90L1389.25 452.50L1385.50 458.10L1381.75 452.50ZM1406.50 460.90L1410.25 466.50L1406.50 472.10L1402.75 466.50ZM1406.50 469.90L1410.25 475.50L1406.50 481.10L1402.75 475.50ZM1406.50 487.90L1410.25 493.50L1406.50 499.10L1402.75 493.50ZM1417.50 441.90L1421.25 447.50L1417.50 453.10L1413.75 447.50ZM1417.50 528.90L1421.25 534.50L1417.50 540.10L1413.75 534.50ZM1417.50 552.90L1421.25 558.50L1417.50 564.10L1413.75 558.50ZM1417.50 562.90L1421.25 568.50L1417.50 574.10L1413.75 568.50ZM1482.50 520.90L1486.25 526.50L1482.50 532.10L1478.75 526.50ZM1493.50 491.90L1497.25 497.50L1493.50 503.10L1489.75 497.50ZM1504.50 462.90L1508.25 468.50L1504.50 474.10L1500.75 468.50ZM1504.50 502.90L1508.25 508.50L1504.50 514.10L1500.75 508.50ZM1514.50 493.90L1518.25 499.50L1514.50 505.10L1510.75 499.50ZM1525.50 483.90L1529.25 489.50L1525.50 495.10L1521.75 489.50ZM1536.50 519.90L1540.25 525.50L1536.50 531.10L1532.75 525.50ZM1558.50 495.90L1562.25 501.50L1558.50 507.10L1554.75 501.50ZM1558.50 515.90L1562.25 521.50L1558.50 527.10L1554.75 521.50ZM1568.50 481.90L1572.25 487.50L1568.50 493.10L1564.75 487.50ZM1568.50 502.90L1572.25 508.50L1568.50 514.10L1564.75 508.50ZM1579.50 494.90L1583.25 500.50L1579.50 506.10L1575.75 500.50ZM1579.50 496.90L1583.25 502.50L1579.50 508.10L1575.75 502.50ZM1579.50 511.90L1583.25 517.50L1579.50 523.10L1575.75 517.50ZM1579.50 519.90L1583.25 525.50L1579.50 531.10L1575.75 525.50ZM1590.50 502.90L1594.25 508.50L1590.50 514.10L1586.75 508.50ZM1590.50 524.90L1594.25 530.50L1590.50 536.10L1586.75 530.50ZM1601.50 529.90L1605.25 535.50L1601.50 541.10L1597.75 535.50ZM1622.50 509.90L1626.25 515.50L1622.50 521.10L1618.75 515.50ZM1633.50 458.90L1637.25 464.50L1633.50 470.10L1629.75 464.50ZM1644.50 512.90L1648.25 518.50L1644.50 524.10L1640.75 518.50ZM1644.50 518.90L1648.25 524.50L1644.50 530.10L1640.75 524.50ZM1655.50 503.90L1659.25 509.50L1655.50 515.10L1651.75 509.50ZM1676.50 498.90L1680.25 504.50L1676.50 510.10L1672.75 504.50ZM1687.50 493.90L1691.25 499.50L1687.50 505.10L1683.75 499.50ZM1698.50 514.90L1702.25 520.50L1698.50 526.10L1694.75 520.50ZM1709.50 520.90L1713.25 526.50L1709.50 532.10L1705.75 526.50ZM1720.50 484.90L1724.25 490.50L1720.50 496.10L1716.75 490.50ZM1720.50 530.90L1724.25 536.50L1720.50 542.10L1716.75 536.50ZM1730.50 503.90L1734.25 509.50L1730.50 515.10L1726.75 509.50ZM1730.50 508.90L1734.25 514.50L1730.50 520.10L1726.75 514.50ZM1741.50 515.90L1745.25 521.50L1741.50 527.10L1737.75 521.50ZM1741.50 535.90L1745.25 541.50L1741.50 547.10L1737.75 541.50ZM1752.50 490.90L1756.25 496.50L1752.50 502.10L1748.75 496.50ZM1763.50 537.90L1767.25 543.50L1763.50 549.10L1759.75 543.50ZM1774.50 518.90L1778.25 524.50L1774.50 530.10L1770.75 524.50ZM1774.50 527.90L1778.25 533.50L1774.50 539.10L1770.75 533.50ZM1784.50 476.90L1788.25 482.50L1784.50 488.10L1780.75 482.50ZM1795.50 529.90L1799.25 535.50L1795.50 541.10L1791.75 535.50ZM1806.50 512.90L1810.25 518.50L1806.50 524.10L1802.75 518.50ZM1817.50 522.90L1821.25 528.50L1817.50 534.10L1813.75 528.50ZM1838.50 539.90L1842.25 545.50L1838.50 551.10L1834.75 545.50ZM1871.50 547.90L1875.25 553.50L1871.50 559.10L1867.75 553.50ZM1882.50 547.90L1886.25 553.50L1882.50 559.10L1878.75 553.50ZM1946.50 556.90L1950.25 562.50L1946.50 568.10L1942.75 562.50ZM1990.50 550.90L1994.25 556.50L1990.50 562.10L1986.75 556.50ZM2022.50 558.90L2026.25 564.50L2022.50 570.10L2018.75 564.50ZM2033.50 554.90L2037.25 560.50L2033.50 566.10L2029.75 560.50ZM2033.50 557.90L2037.25 563.50L2033.50 569.10L2029.75 563.50ZM2033.50 559.90L2037.25 565.50L2033.50 571.10L2029.75 565.50ZM2076.50 524.90L2080.25 530.50L2076.50 536.10L2072.75 530.50ZM2098.50 555.90L2102.25 561.50L2098.50 567.10L2094.75 561.50ZM2108.50 561.90L2112.25 567.50L2108.50 573.10L2104.75 567.50ZM2119.50 548.90L2123.25 554.50L2119.50 560.10L2115.75 554.50ZM2141.50 555.90L2145.25 561.50L2141.50 567.10L2137.75 561.50ZM2184.50 558.90L2188.25 564.50L2184.50 570.10L2180.75 564.50ZM2238.50 540.90L2242.25 546.50L2238.50 552.10L2234.75 546.50ZM2249.50 560.90L2253.25 566.50L2249.50 572.10L2245.75 566.50ZM2260.50 557.90L2264.25 563.50L2260.50 569.10L2256.75 563.50ZM2260.50 559.90L2264.25 565.50L2260.50 571.10L2256.75 565.50ZM2270.50 555.90L2274.25 561.50L2270.50 567.10L2266.75 561.50ZM2292.50 557.90L2296.25 563.50L2292.50 569.10L2288.75 563.50ZM2303.50 538.90L2307.25 544.50L2303.50 550.10L2299.75 544.50ZM2314.50 548.90L2318.25 554.50L2314.50 560.10L2310.75 554.50ZM2324.50 535.90L2328.25 541.50L2324.50 547.10L2320.75 541.50ZM2324.50 549.90L2328.25 555.50L2324.50 561.10L2320.75 555.50ZM2335.50 532.90L2339.25 538.50L2335.50 544.10L2331.75 538.50ZM2346.50 531.90L2350.25 537.50L2346.50 543.10L2342.75 537.50ZM2357.50 477.90L2361.25 483.50L2357.50 489.10L2353.75 483.50ZM2368.50 484.90L2372.25 490.50L2368.50 496.10L2364.75 490.50ZM2378.50 498.90L2382.25 504.50L2378.50 510.10L2374.75 504.50ZM2400.50 492.90L2404.25 498.50L2400.50 504.10L2396.75 498.50ZM2400.50 506.90L2404.25 512.50L2400.50 518.10L2396.75 512.50ZM2400.50 516.90L2404.25 522.50L2400.50 528.10L2396.75 522.50ZM2400.50 538.90L2404.25 544.50L2400.50 550.10L2396.75 544.50ZM2411.50 441.90L2415.25 447.50L2411.50 453.10L2407.75 447.50ZM2411.50 463.90L2415.25 469.50L2411.50 475.10L2407.75 469.50ZM2411.50 538.90L2415.25 544.50L2411.50 550.10L2407.75 544.50ZM2422.50 446.90L2426.25 452.50L2422.50 458.10L2418.75 452.50ZM2422.50 459.90L2426.25 465.50L2422.50 471.10L2418.75 465.50ZM2432.50 495.90L2436.25 501.50L2432.50 507.10L2428.75 501.50ZM2432.50 506.90L2436.25 512.50L2432.50 518.10L2428.75 512.50ZM2432.50 517.90L2436.25 523.50L2432.50 529.10L2428.75 523.50ZM2443.50 476.90L2447.25 482.50L2443.50 488.10L2439.75 482.50ZM2443.50 500.90L2447.25 506.50L2443.50 512.10L2439.75 506.50ZM2454.50 427.90L2458.25 433.50L2454.50 439.10L2450.75 433.50ZM2454.50 521.90L2458.25 527.50L2454.50 533.10L2450.75 527.50ZM2465.50 457.90L2469.25 463.50L2465.50 469.10L2461.75 463.50ZM2465.50 468.90L2469.25 474.50L2465.50 480.10L2461.75 474.50ZM2465.50 523.90L2469.25 529.50L2465.50 535.10L2461.75 529.50ZM2476.50 474.90L2480.25 480.50L2476.50 486.10L2472.75 480.50ZM2476.50 502.90L2480.25 508.50L2476.50 514.10L2472.75 508.50ZM2497.50 505.90L2501.25 511.50L2497.50 517.10L2493.75 511.50ZM2519.50 460.90L2523.25 466.50L2519.50 472.10L2515.75 466.50ZM2530.50 482.90L2534.25 488.50L2530.50 494.10L2526.75 488.50ZM2540.50 473.90L2544.25 479.50L2540.50 485.10L2536.75 479.50ZM2573.50 442.90L2577.25 448.50L2573.50 454.10L2569.75 448.50ZM2584.50 426.90L2588.25 432.50L2584.50 438.10L2580.75 432.50ZM2584.50 427.90L2588.25 433.50L2584.50 439.10L2580.75 433.50ZM2594.50 370.90L2598.25 376.50L2594.50 382.10L2590.75 376.50ZM2638.50 406.90L2642.25 412.50L2638.50 418.10L2634.75 412.50ZM2638.50 413.90L2642.25 419.50L2638.50 425.10L2634.75 419.50ZM2638.50 345.90L2642.25 351.50L2638.50 357.10L2634.75 351.50ZM2649.50 287.90L2653.25 293.50L2649.50 299.10L2645.75 293.50ZM2692.50 548.90L2696.25 554.50L2692.50 560.10L2688.75 554.50ZM2692.50 561.90L2696.25 567.50L2692.50 573.10L2688.75 567.50ZM2703.50 268.90L2707.25 274.50L2703.50 280.10L2699.75 274.50ZM2713.50 195.90L2717.25 201.50L2713.50 207.10L2709.75 201.50ZM2757.50 272.90L2761.25 278.50L2757.50 284.10L2753.75 278.50ZM2757.50 108.90L2761.25 114.50L2757.50 120.10L2753.75 114.50ZM2767.50 272.90L2771.25 278.50L2767.50 284.10L2763.75 278.50ZM2767.50 298.90L2771.25 304.50L2767.50 310.10L2763.75 304.50ZM2811.50 298.90L2815.25 304.50L2811.50 310.10L2807.75 304.50ZM2832.50 71.90L2836.25 77.50L2832.50 83.10L2828.75 77.50ZM2843.50 175.90L2847.25 181.50L2843.50 187.10L2839.75 181.50ZM2854.50 275.90L2858.25 281.50L2854.50 287.10L2850.75 281.50ZM2865.50 293.90L2869.25 299.50L2865.50 305.10L2861.75 299.50ZM2875.50 298.90L2879.25 304.50L2875.50 310.10L2871.75 304.50ZM2875.50 331.90L2879.25 337.50L2875.50 343.10L2871.75 337.50ZM2919.50 345.90L2923.25 351.50L2919.50 357.10L2915.75 351.50ZM2919.50 357.90L2923.25 363.50L2919.50 369.10L2915.75 363.50ZM2929.50 368.90L2933.25 374.50L2929.50 380.10L2925.75 374.50ZM2940.50 337.90L2944.25 343.50L2940.50 349.10L2936.75 343.50ZM2951.50 310.90L2955.25 316.50L2951.50 322.10L2947.75 316.50ZM2962.50 362.90L2966.25 368.50L2962.50 374.10L2958.75 368.50ZM2973.50 408.90L2977.25 414.50L2973.50 420.10L2969.75 414.50ZM2973.50 418.90L2977.25 424.50L2973.50 430.10L2969.75 424.50ZM2973.50 308.90L2977.25 314.50L2973.50 320.10L2969.75 314.50ZM2983.50 391.90L2987.25 397.50L2983.50 403.10L2979.75 397.50ZM2983.50 351.90L2987.25 357.50L2983.50 363.10L2979.75 357.50ZM3005.50 457.90L3009.25 463.50L3005.50 469.10L3001.75 463.50ZM3005.50 359.90L3009.25 365.50L3005.50 371.10L3001.75 365.50ZM3048.50 372.90L3052.25 378.50L3048.50 384.10L3044.75 378.50ZM3059.50 414.90L3063.25 420.50L3059.50 426.10L3055.75 420.50ZM3059.50 429.90L3063.25 435.50L3059.50 441.10L3055.75 435.50ZM3070.50 409.90L3074.25 415.50L3070.50 421.10L3066.75 415.50ZM3070.50 435.90L3074.25 441.50L3070.50 447.10L3066.75 441.50ZM3081.50 392.90L3085.25 398.50L3081.50 404.10L3077.75 398.50ZM3081.50 418.90L3085.25 424.50L3081.50 430.10L3077.75 424.50ZM3091.50 441.90L3095.25 447.50L3091.50 453.10L3087.75 447.50ZM3091.50 470.90L3095.25 476.50L3091.50 482.10L3087.75 476.50ZM3102.50 394.90L3106.25 400.50L3102.50 406.10L3098.75 400.50ZM3102.50 422.90L3106.25 428.50L3102.50 434.10L3098.75 428.50ZM3102.50 368.90L3106.25 374.50L3102.50 380.10L3098.75 374.50ZM3113.50 440.90L3117.25 446.50L3113.50 452.10L3109.75 446.50ZM3124.50 430.90L3128.25 436.50L3124.50 442.10L3120.75 436.50ZM3135.50 404.90L3139.25 410.50L3135.50 416.10L3131.75 410.50ZM3156.50 442.90L3160.25 448.50L3156.50 454.10L3152.75 448.50ZM3167.50 449.90L3171.25 455.50L3167.50 461.10L3163.75 455.50Z" fill="#454545"/>
<path d="M77.75 531.40L88.55 542.35L99.35 543.57L110.15 486.80L120.96 539.51L131.76 508.70L142.56 542.35L153.36 520.86L164.16 515.59L174.96 454.36L185.77 531.00L196.57 494.10L207.37 466.52L218.17 494.10L228.97 495.72L239.77 455.17L250.57 417.46L261.38 401.64L272.18 391.10L282.98 466.52L293.78 540.73L304.58 485.18L315.38 511.94L326.18 496.53L336.99 543.98L347.79 507.07L358.59 494.10L369.39 478.69L380.19 495.72L390.99 488.42L401.80 488.42L412.60 468.96L423.40 529.78L434.20 438.38L445.00 523.29L455.80 497.34L466.60 471.55L477.41 513.56L488.21 458.66L499.01 524.67L509.81 526.86L520.61 545.60L531.41 450.30L542.21 529.46L553.02 494.10L563.82 456.39L574.62 518.19L585.42 542.35L596.22 507.07L607.02 551.03L617.83 526.30L628.63 545.60L639.43 505.94L650.23 554.28L661.03 554.60L671.83 495.15L682.63 566.28M704.24 556.79L715.04 513.32L725.84 523.29L736.64 553.63L747.44 540.73L758.24 552.00L769.05 567.09M790.65 565.47L801.45 531.08M844.66 567.90L855.46 555.25L866.26 532.70L877.06 567.49L887.86 567.49L898.66 567.49M974.27 556.79L985.08 567.49L995.88 567.49M1082.29 559.06L1093.09 567.90M1125.50 550.38L1136.30 567.90L1147.10 567.90L1157.90 552.65L1168.70 552.65L1179.50 562.63L1190.30 521.43L1201.11 560.68L1211.91 560.68L1222.71 559.06L1233.51 542.35L1244.31 558.41L1255.11 567.49L1265.92 562.63L1276.72 548.11L1287.52 509.51L1298.32 524.11L1309.12 536.84L1319.92 492.48L1330.72 565.87L1341.53 567.09L1352.33 535.95L1363.13 541.38M1395.53 551.36L1406.33 500.59L1417.14 547.14L1427.94 499.05L1438.74 541.70L1449.54 552.00L1460.34 554.28L1471.14 561.01L1481.95 540.73L1492.75 554.28L1503.55 557.44L1514.35 535.95L1525.15 564.90L1535.95 538.14L1546.75 562.63L1557.56 564.25L1568.36 563.28L1579.16 561.01L1589.96 560.68L1600.76 557.03L1611.56 552.73L1622.36 557.03L1633.17 567.09L1643.97 563.20L1654.77 563.20L1665.57 567.09L1676.37 560.03L1687.17 542.52L1697.98 558.98L1708.78 548.92L1719.58 558.57L1730.38 558.57M1784.39 567.09L1795.19 563.85L1805.99 558.09L1816.79 563.85L1827.59 566.60M1860.00 558.57L1870.80 562.79L1881.60 553.22L1892.40 567.09L1903.20 562.79M1946.41 560.68L1957.21 565.95M2011.22 566.60L2022.02 567.09M2173.24 558.09L2184.04 567.49M2205.65 567.09L2216.45 565.95L2227.25 565.95M2302.86 565.55L2313.66 565.55M2389.27 564.90L2400.07 557.03L2410.87 561.74L2421.68 552.17L2432.48 558.98L2443.28 542.92L2454.08 552.00L2464.88 533.35L2475.68 532.70L2486.48 567.49L2497.29 552.98L2508.09 560.03L2518.89 566.44L2529.69 556.87L2540.49 540.73L2551.29 520.78L2562.10 477.07L2572.90 505.29L2583.70 478.93L2594.50 468.31L2605.30 520.78L2616.10 556.87L2626.90 516.00L2637.71 427.60L2648.51 468.31L2659.31 465.15L2670.11 347.31L2680.91 389.48L2691.71 424.35L2702.51 454.36L2713.32 481.93L2724.12 435.46L2734.92 441.95L2745.72 524.67L2756.52 467.66L2767.32 409.75L2778.12 466.69L2788.93 476.34L2799.73 525.65L2810.53 500.51L2821.33 525.65L2832.13 508.53L2842.93 556.87L2853.74 367.58L2864.54 461.90L2875.34 507.56L2886.14 481.29L2896.94 520.78L2907.74 445.76L2918.54 488.26L2929.35 474.80L2940.15 477.96L2950.95 475.45L2961.75 487.94L2972.55 543.98L2983.35 413.65L2994.16 448.76L3004.96 543.33L3015.76 529.46L3026.56 452.25L3037.36 391.91L3048.16 497.26L3058.96 554.28L3069.77 557.44L3080.57 559.06L3091.37 497.91L3102.17 490.21L3112.97 505.29L3123.77 518.19L3134.57 487.61L3145.38 466.69L3156.18 555.25L3166.98 551.03L3177.78 556.22" stroke="#0000ff" stroke-width="2.1" fill="none" stroke-linejoin="round" stroke-linecap="square"/>
</g>
<path d="M122.0 54V591" stroke="#4C72B0" stroke-width="2"/>
<path d="M211.0 54V591" stroke="#4C72B0" stroke-width="2"/>
<path d="M413.0 54V591" stroke="#4C72B0" stroke-width="2"/>
<path d="M1388.0 54V591" stroke="#4C72B0" stroke-width="2"/>
<path d="M2529.0 54V591" stroke="#4C72B0" stroke-width="2"/>
<g clip-path="url(#c)">
<path d="M78.50 517.50V498.50M76.50 498.50H80.50M78.50 553.50V568.50M76.50 568.50H80.50M73.50 536.50H82.50M89.50 494.50V454.50M86.50 454.50H91.50M89.50 555.50V568.50M86.50 568.50H91.50M84.50 533.50H93.50M99.50 532.50V507.50M97.50 507.50H102.50M99.50 561.50V568.50M97.50 568.50H102.50M95.50 554.50H104.50M110.50 517.50V487.50M108.50 487.50H112.50M110.50 554.50V568.50M108.50 568.50H112.50M106.50 541.50H114.50M121.50 507.50V437.50M119.50 437.50H123.50M121.50 563.50V568.50M119.50 568.50H123.50M117.50 546.50H125.50M132.50 523.50V497.50M130.50 497.50H134.50M132.50 561.50V566.50M130.50 566.50H134.50M127.50 537.50H136.50M143.50 518.50V480.50M140.50 480.50H145.50M143.50 553.50V564.50M140.50 564.50H145.50M138.50 548.50H147.50M153.50 505.50V458.50M151.50 458.50H156.50M153.50 559.50V568.50M151.50 568.50H156.50M149.50 540.50H158.50M164.50 533.50V511.50M162.50 511.50H166.50M164.50 554.50V568.50M162.50 568.50H166.50M160.50 548.50H168.50M175.50 519.50V498.50M173.50 498.50H177.50M175.50 557.50V568.50M173.50 568.50H177.50M171.50 541.50H179.50M186.50 507.50V462.50M184.50 462.50H188.50M186.50 559.50V568.50M184.50 568.50H188.50M181.50 552.50H190.50M197.50 522.50V462.50M194.50 462.50H199.50M197.50 562.50V568.50M194.50 568.50H199.50M192.50 544.50H201.50M207.50 527.50V477.50M205.50 477.50H210.50M207.50 561.50V568.50M205.50 568.50H210.50M203.50 550.50H212.50M218.50 523.50V483.50M216.50 483.50H220.50M218.50 562.50V568.50M216.50 568.50H220.50M214.50 537.50H222.50M229.50 522.50V495.50M227.50 495.50H231.50M229.50 552.50V568.50M227.50 568.50H231.50M225.50 536.50H233.50M240.50 502.50V449.50M238.50 449.50H242.50M240.50 554.50V568.50M238.50 568.50H242.50M235.50 542.50H244.50M251.50 499.50V458.50M248.50 458.50H253.50M251.50 541.50V568.50M248.50 568.50H253.50M246.50 528.50H255.50M261.50 466.50V384.50M259.50 384.50H264.50M261.50 544.50V568.50M259.50 568.50H264.50M257.50 516.50H266.50M272.50 486.50V422.50M270.50 422.50H274.50M272.50 548.50V568.50M270.50 568.50H274.50M268.50 535.50H276.50M283.50 475.50V394.50M281.50 394.50H285.50M283.50 548.50V568.50M281.50 568.50H285.50M279.50 514.50H287.50M294.50 484.50V403.50M292.50 403.50H296.50M294.50 546.50V566.50M292.50 566.50H296.50M289.50 524.50H298.50M305.50 514.50V484.50M302.50 484.50H307.50M305.50 547.50V563.50M302.50 563.50H307.50M300.50 528.50H309.50M315.50 491.50V476.50M313.50 476.50H318.50M315.50 542.50V568.50M313.50 568.50H318.50M311.50 524.50H320.50M326.50 501.50V470.50M324.50 470.50H328.50M326.50 535.50V550.50M324.50 550.50H328.50M322.50 518.50H331.50M337.50 488.50V455.50M335.50 455.50H339.50M337.50 537.50V561.50M335.50 561.50H339.50M333.50 514.50H341.50M348.50 503.50V446.50M346.50 446.50H350.50M348.50 536.50V564.50M346.50 564.50H350.50M343.50 527.50H352.50M359.50 444.50V387.50M356.50 387.50H361.50M359.50 554.50V568.50M356.50 568.50H361.50M354.50 530.50H363.50M369.50 497.50V420.50M367.50 420.50H372.50M369.50 549.50V567.50M367.50 567.50H372.50M365.50 536.50H374.50M380.50 485.50V432.50M378.50 432.50H382.50M380.50 520.50V565.50M378.50 565.50H382.50M376.50 501.50H385.50M391.50 446.50V403.50M389.50 403.50H393.50M391.50 537.50V563.50M389.50 563.50H393.50M387.50 494.50H395.50M402.50 485.50V442.50M400.50 442.50H404.50M402.50 537.50V568.50M400.50 568.50H404.50M397.50 514.50H406.50M413.50 455.50V372.50M410.50 372.50H415.50M413.50 539.50V563.50M410.50 563.50H415.50M408.50 507.50H417.50M423.50 435.50V357.50M421.50 357.50H426.50M423.50 547.50V563.50M421.50 563.50H426.50M419.50 502.50H428.50M434.50 465.50V428.50M432.50 428.50H436.50M434.50 518.50V567.50M432.50 567.50H436.50M430.50 508.50H439.50M445.50 480.50V406.50M443.50 406.50H447.50M445.50 533.50V567.50M443.50 567.50H447.50M441.50 522.50H449.50M456.50 476.50V439.50M454.50 439.50H458.50M456.50 527.50V564.50M454.50 564.50H458.50M451.50 509.50H460.50M467.50 465.50V389.50M464.50 389.50H469.50M467.50 528.50V554.50M464.50 554.50H469.50M462.50 500.50H471.50M477.50 455.50V377.50M475.50 377.50H480.50M477.50 525.50V556.50M475.50 556.50H480.50M473.50 487.50H482.50M488.50 450.50V353.50M486.50 353.50H490.50M488.50 534.50V568.50M486.50 568.50H490.50M484.50 510.50H493.50M499.50 456.50V385.50M497.50 385.50H501.50M499.50 546.50V561.50M497.50 561.50H501.50M495.50 478.50H503.50M510.50 474.50V384.50M508.50 384.50H512.50M510.50 537.50V567.50M508.50 567.50H512.50M505.50 522.50H514.50M521.50 507.50V484.50M518.50 484.50H523.50M521.50 531.50V557.50M518.50 557.50H523.50M516.50 523.50H525.50M531.50 499.50V485.50M529.50 485.50H534.50M531.50 528.50V566.50M529.50 566.50H534.50M527.50 509.50H536.50M542.50 486.50V443.50M540.50 443.50H544.50M542.50 550.50V564.50M540.50 564.50H544.50M538.50 521.50H547.50M553.50 479.50V435.50M551.50 435.50H555.50M553.50 542.50V563.50M551.50 563.50H555.50M549.50 524.50H557.50M564.50 516.50V458.50M562.50 458.50H566.50M564.50 553.50V568.50M562.50 568.50H566.50M559.50 534.50H568.50M575.50 518.50V487.50M572.50 487.50H577.50M575.50 559.50V568.50M572.50 568.50H577.50M570.50 542.50H579.50M585.50 497.50V452.50M583.50 452.50H588.50M585.50 557.50V567.50M583.50 567.50H588.50M581.50 528.50H590.50M596.50 507.50V440.50M594.50 440.50H598.50M596.50 559.50V568.50M594.50 568.50H598.50M592.50 545.50H601.50M607.50 518.50V486.50M605.50 486.50H609.50M607.50 562.50V567.50M605.50 567.50H609.50M603.50 557.50H611.50M618.50 511.50V463.50M616.50 463.50H620.50M618.50 548.50V567.50M616.50 567.50H620.50M614.50 519.50H622.50M629.50 530.50V522.50M626.50 522.50H631.50M629.50 562.50V567.50M626.50 567.50H631.50M624.50 555.50H633.50M639.50 547.50V535.50M637.50 535.50H642.50M639.50 564.50V568.50M637.50 568.50H642.50M635.50 558.50H644.50M650.50 537.50V522.50M648.50 522.50H652.50M650.50 557.50V567.50M648.50 567.50H652.50M646.50 551.50H655.50M661.50 533.50V499.50M659.50 499.50H663.50M661.50 564.50V567.50M659.50 567.50H663.50M657.50 558.50H665.50M672.50 522.50V499.50M670.50 499.50H674.50M672.50 552.50V567.50M670.50 567.50H674.50M668.50 537.50H676.50M683.50 532.50V498.50M680.50 498.50H685.50M683.50 565.50V568.50M680.50 568.50H685.50M678.50 561.50H687.50M693.50 512.50V489.50M691.50 489.50H696.50M693.50 563.50V566.50M691.50 566.50H696.50M689.50 549.50H698.50M704.50 535.50V526.50M702.50 526.50H706.50M704.50 563.50V568.50M702.50 568.50H706.50M700.50 558.50H709.50M715.50 554.50V549.50M713.50 549.50H717.50M715.50 567.50V568.50M713.50 568.50H717.50M711.50 560.50H719.50M726.50 541.50V510.50M724.50 510.50H728.50M726.50 567.50V568.50M724.50 568.50H728.50M722.50 562.50H730.50M737.50 520.50V459.50M734.50 459.50H739.50M737.50 565.50V568.50M734.50 568.50H739.50M732.50 542.50H741.50M747.50 532.50V482.50M745.50 482.50H750.50M747.50 563.50V568.50M745.50 568.50H750.50M743.50 557.50H752.50M758.50 506.50V466.50M756.50 466.50H760.50M758.50 564.50V568.50M756.50 568.50H760.50M754.50 560.50H763.50M769.50 558.50V550.50M767.50 550.50H771.50M769.50 567.50V568.50M767.50 568.50H771.50M765.50 563.50H773.50M780.50 537.50V505.50M778.50 505.50H782.50M780.50 564.50V568.50M778.50 568.50H782.50M776.50 557.50H784.50M791.50 522.50V463.50M788.50 463.50H793.50M791.50 562.50V568.50M788.50 568.50H793.50M786.50 550.50H795.50M801.50 533.50V512.50M799.50 512.50H804.50M801.50 562.50V568.50M799.50 568.50H804.50M797.50 551.50H806.50M812.50 532.50V498.50M810.50 498.50H814.50M812.50 565.50V568.50M810.50 568.50H814.50M808.50 556.50H817.50M823.50 526.50V516.50M821.50 516.50H825.50M823.50 563.50V568.50M821.50 568.50H825.50M819.50 544.50H827.50M834.50 533.50V519.50M832.50 519.50H836.50M834.50 563.50V568.50M832.50 568.50H836.50M830.50 545.50H838.50M845.50 532.50V510.50M842.50 510.50H847.50M845.50 562.50V568.50M842.50 568.50H847.50M840.50 558.50H849.50M855.50 526.50V482.50M853.50 482.50H858.50M855.50 565.50V568.50M853.50 568.50H858.50M851.50 555.50H860.50M866.50 526.50V505.50M864.50 505.50H868.50M866.50 563.50V568.50M864.50 568.50H868.50M862.50 556.50H871.50M877.50 557.50V552.50M875.50 552.50H879.50M877.50 566.50V568.50M875.50 568.50H879.50M873.50 560.50H881.50M888.50 546.50V522.50M886.50 522.50H890.50M888.50 565.50V568.50M886.50 568.50H890.50M884.50 560.50H892.50M899.50 530.50V526.50M897.50 526.50H901.50M899.50 565.50V568.50M897.50 568.50H901.50M894.50 562.50H903.50M909.50 554.50V549.50M907.50 549.50H912.50M909.50 565.50V568.50M907.50 568.50H912.50M905.50 563.50H914.50M920.50 562.50V560.50M918.50 560.50H922.50M920.50 567.50V568.50M918.50 568.50H922.50M916.50 565.50H925.50M931.50 532.50V516.50M929.50 516.50H933.50M931.50 565.50V568.50M929.50 568.50H933.50M927.50 563.50H935.50M942.50 542.50V516.50M940.50 516.50H944.50M942.50 564.50V568.50M940.50 568.50H944.50M938.50 559.50H946.50M953.50 543.50V528.50M951.50 528.50H955.50M953.50 562.50V568.50M951.50 568.50H955.50M948.50 560.50H957.50M963.50 548.50V537.50M961.50 537.50H966.50M963.50 564.50V568.50M961.50 568.50H966.50M959.50 561.50H968.50M974.50 557.50V554.50M972.50 554.50H976.50M974.50 567.50V568.50M972.50 568.50H976.50M970.50 565.50H979.50M985.50 558.50V557.50M983.50 557.50H987.50M985.50 567.50V568.50M983.50 568.50H987.50M981.50 566.50H989.50M996.50 559.50V557.50M994.50 557.50H998.50M996.50 567.50V568.50M994.50 568.50H998.50M992.50 566.50H1000.50M1007.50 554.50V548.50M1005.50 548.50H1009.50M1007.50 564.50V568.50M1005.50 568.50H1009.50M1002.50 559.50H1011.50M1017.50 546.50V519.50M1015.50 519.50H1020.50M1017.50 565.50V568.50M1015.50 568.50H1020.50M1013.50 563.50H1022.50M1028.50 519.50V482.50M1026.50 482.50H1030.50M1028.50 558.50V568.50M1026.50 568.50H1030.50M1024.50 539.50H1033.50M1039.50 553.50V538.50M1037.50 538.50H1041.50M1039.50 563.50V568.50M1037.50 568.50H1041.50M1035.50 560.50H1043.50M1050.50 562.50V561.50M1048.50 561.50H1052.50M1050.50 567.50V568.50M1048.50 568.50H1052.50M1046.50 565.50H1054.50M1061.50 528.50V501.50M1059.50 501.50H1063.50M1061.50 565.50V568.50M1059.50 568.50H1063.50M1056.50 546.50H1065.50M1071.50 547.50V536.50M1069.50 536.50H1074.50M1071.50 567.50V568.50M1069.50 568.50H1074.50M1067.50 563.50H1076.50M1082.50 526.50V498.50M1080.50 498.50H1084.50M1082.50 566.50V568.50M1080.50 568.50H1084.50M1078.50 537.50H1087.50M1093.50 541.50V528.50M1091.50 528.50H1095.50M1093.50 564.50V568.50M1091.50 568.50H1095.50M1089.50 555.50H1097.50M1104.50 546.50V522.50M1102.50 522.50H1106.50M1104.50 565.50V568.50M1102.50 568.50H1106.50M1100.50 565.50H1108.50M1115.50 553.50V548.50M1113.50 548.50H1117.50M1115.50 567.50V568.50M1113.50 568.50H1117.50M1110.50 554.50H1119.50M1125.50 543.50V513.50M1123.50 513.50H1128.50M1125.50 565.50V568.50M1123.50 568.50H1128.50M1121.50 560.50H1130.50M1136.50 540.50V516.50M1134.50 516.50H1138.50M1136.50 567.50V568.50M1134.50 568.50H1138.50M1132.50 557.50H1141.50M1147.50 540.50V528.50M1145.50 528.50H1149.50M1147.50 567.50V568.50M1145.50 568.50H1149.50M1143.50 552.50H1151.50M1158.50 548.50V528.50M1156.50 528.50H1160.50M1158.50 565.50V568.50M1156.50 568.50H1160.50M1154.50 552.50H1162.50M1169.50 530.50V508.50M1167.50 508.50H1171.50M1169.50 561.50V568.50M1167.50 568.50H1171.50M1164.50 552.50H1173.50M1180.50 528.50V485.50M1177.50 485.50H1182.50M1180.50 563.50V568.50M1177.50 568.50H1182.50M1175.50 556.50H1184.50M1190.50 498.50V458.50M1188.50 458.50H1192.50M1190.50 563.50V568.50M1188.50 568.50H1192.50M1186.50 537.50H1195.50M1201.50 517.50V473.50M1199.50 473.50H1203.50M1201.50 562.50V568.50M1199.50 568.50H1203.50M1197.50 554.50H1205.50M1212.50 512.50V459.50M1210.50 459.50H1214.50M1212.50 553.50V568.50M1210.50 568.50H1214.50M1208.50 539.50H1216.50M1223.50 518.50V467.50M1221.50 467.50H1225.50M1223.50 554.50V568.50M1221.50 568.50H1225.50M1218.50 529.50H1227.50M1234.50 522.50V483.50M1231.50 483.50H1236.50M1234.50 562.50V568.50M1231.50 568.50H1236.50M1229.50 557.50H1238.50M1244.50 526.50V486.50M1242.50 486.50H1246.50M1244.50 565.50V568.50M1242.50 568.50H1246.50M1240.50 543.50H1249.50M1255.50 525.50V489.50M1253.50 489.50H1257.50M1255.50 551.50V568.50M1253.50 568.50H1257.50M1251.50 535.50H1259.50M1266.50 527.50V486.50M1264.50 486.50H1268.50M1266.50 559.50V568.50M1264.50 568.50H1268.50M1262.50 545.50H1270.50M1277.50 530.50V485.50M1275.50 485.50H1279.50M1277.50 561.50V568.50M1275.50 568.50H1279.50M1272.50 550.50H1281.50M1288.50 515.50V465.50M1285.50 465.50H1290.50M1288.50 558.50V568.50M1285.50 568.50H1290.50M1283.50 541.50H1292.50M1298.50 521.50V488.50M1296.50 488.50H1300.50M1298.50 556.50V568.50M1296.50 568.50H1300.50M1294.50 545.50H1303.50M1309.50 521.50V457.50M1307.50 457.50H1311.50M1309.50 565.50V568.50M1307.50 568.50H1311.50M1305.50 531.50H1313.50M1320.50 504.50V432.50M1318.50 432.50H1322.50M1320.50 553.50V568.50M1318.50 568.50H1322.50M1316.50 533.50H1324.50M1331.50 530.50V505.50M1329.50 505.50H1333.50M1331.50 558.50V568.50M1329.50 568.50H1333.50M1326.50 541.50H1335.50M1342.50 526.50V502.50M1339.50 502.50H1344.50M1342.50 563.50V568.50M1339.50 568.50H1344.50M1337.50 544.50H1346.50M1352.50 501.50V471.50M1350.50 471.50H1354.50M1352.50 561.50V568.50M1350.50 568.50H1354.50M1348.50 537.50H1357.50M1363.50 508.50V477.50M1361.50 477.50H1365.50M1363.50 562.50V568.50M1361.50 568.50H1365.50M1359.50 538.50H1367.50M1374.50 514.50V493.50M1372.50 493.50H1376.50M1374.50 555.50V568.50M1372.50 568.50H1376.50M1370.50 534.50H1378.50M1385.50 527.50V505.50M1383.50 505.50H1387.50M1385.50 552.50V568.50M1383.50 568.50H1387.50M1380.50 544.50H1389.50M1396.50 498.50V450.50M1393.50 450.50H1398.50M1396.50 547.50V568.50M1393.50 568.50H1398.50M1391.50 533.50H1400.50M1406.50 539.50V531.50M1404.50 531.50H1408.50M1406.50 560.50V568.50M1404.50 568.50H1408.50M1402.50 554.50H1411.50M1417.50 547.50V544.50M1415.50 544.50H1419.50M1417.50 550.50V553.50M1415.50 553.50H1419.50M1413.50 548.50H1421.50M1428.50 525.50V475.50M1426.50 475.50H1430.50M1428.50 561.50V568.50M1426.50 568.50H1430.50M1424.50 549.50H1432.50M1439.50 529.50V489.50M1437.50 489.50H1441.50M1439.50 560.50V568.50M1437.50 568.50H1441.50M1434.50 554.50H1443.50M1450.50 530.50V489.50M1447.50 489.50H1452.50M1450.50 559.50V568.50M1447.50 568.50H1452.50M1445.50 555.50H1454.50M1460.50 530.50V502.50M1458.50 502.50H1463.50M1460.50 557.50V568.50M1458.50 568.50H1463.50M1456.50 546.50H1465.50M1471.50 528.50V502.50M1469.50 502.50H1473.50M1471.50 558.50V568.50M1469.50 568.50H1473.50M1467.50 552.50H1475.50M1482.50 547.50V534.50M1480.50 534.50H1484.50M1482.50 559.50V568.50M1480.50 568.50H1484.50M1478.50 553.50H1486.50M1493.50 537.50V507.50M1491.50 507.50H1495.50M1493.50 562.50V568.50M1491.50 568.50H1495.50M1488.50 558.50H1497.50M1504.50 547.50V537.50M1501.50 537.50H1506.50M1504.50 562.50V568.50M1501.50 568.50H1506.50M1499.50 556.50H1508.50M1514.50 541.50V521.50M1512.50 521.50H1517.50M1514.50 561.50V568.50M1512.50 568.50H1517.50M1510.50 556.50H1519.50M1525.50 543.50V536.50M1523.50 536.50H1527.50M1525.50 561.50V568.50M1523.50 568.50H1527.50M1521.50 552.50H1529.50M1536.50 548.50V537.50M1534.50 537.50H1538.50M1536.50 563.50V568.50M1534.50 568.50H1538.50M1532.50 558.50H1540.50M1547.50 541.50V511.50M1545.50 511.50H1549.50M1547.50 560.50V568.50M1545.50 568.50H1549.50M1542.50 551.50H1551.50M1558.50 547.50V527.50M1555.50 527.50H1560.50M1558.50 563.50V568.50M1555.50 568.50H1560.50M1553.50 557.50H1562.50M1568.50 544.50V526.50M1566.50 526.50H1571.50M1568.50 561.50V568.50M1566.50 568.50H1571.50M1564.50 552.50H1573.50M1579.50 553.50V550.50M1577.50 550.50H1581.50M1579.50 562.50V568.50M1577.50 568.50H1581.50M1575.50 558.50H1583.50M1590.50 550.50V539.50M1588.50 539.50H1592.50M1590.50 560.50V566.50M1588.50 566.50H1592.50M1586.50 554.50H1594.50M1601.50 557.50V549.50M1599.50 549.50H1603.50M1601.50 566.50V568.50M1599.50 568.50H1603.50M1596.50 563.50H1605.50M1612.50 553.50V545.50M1609.50 545.50H1614.50M1612.50 561.50V567.50M1609.50 567.50H1614.50M1607.50 559.50H1616.50M1622.50 549.50V531.50M1620.50 531.50H1625.50M1622.50 566.50V568.50M1620.50 568.50H1625.50M1618.50 561.50H1627.50M1633.50 548.50V536.50M1631.50 536.50H1635.50M1633.50 566.50V568.50M1631.50 568.50H1635.50M1629.50 554.50H1637.50M1644.50 553.50V539.50M1642.50 539.50H1646.50M1644.50 563.50V568.50M1642.50 568.50H1646.50M1640.50 561.50H1648.50M1655.50 545.50V526.50M1653.50 526.50H1657.50M1655.50 559.50V568.50M1653.50 568.50H1657.50M1650.50 554.50H1659.50M1666.50 553.50V544.50M1663.50 544.50H1668.50M1666.50 566.50V568.50M1663.50 568.50H1668.50M1661.50 563.50H1670.50M1676.50 552.50V533.50M1674.50 533.50H1679.50M1676.50 566.50V568.50M1674.50 568.50H1679.50M1672.50 564.50H1681.50M1687.50 549.50V539.50M1685.50 539.50H1689.50M1687.50 563.50V568.50M1685.50 568.50H1689.50M1683.50 555.50H1691.50M1698.50 552.50V538.50M1696.50 538.50H1700.50M1698.50 565.50V568.50M1696.50 568.50H1700.50M1694.50 559.50H1702.50M1709.50 549.50V539.50M1707.50 539.50H1711.50M1709.50 564.50V568.50M1707.50 568.50H1711.50M1704.50 559.50H1713.50M1720.50 554.50V544.50M1717.50 544.50H1722.50M1720.50 564.50V568.50M1717.50 568.50H1722.50M1715.50 559.50H1724.50M1730.50 550.50V534.50M1728.50 534.50H1733.50M1730.50 564.50V568.50M1728.50 568.50H1733.50M1726.50 560.50H1735.50M1741.50 556.50V554.50M1739.50 554.50H1743.50M1741.50 565.50V568.50M1739.50 568.50H1743.50M1737.50 561.50H1746.50M1752.50 556.50V544.50M1750.50 544.50H1754.50M1752.50 566.50V568.50M1750.50 568.50H1754.50M1748.50 564.50H1756.50M1763.50 558.50V548.50M1761.50 548.50H1765.50M1763.50 566.50V568.50M1761.50 568.50H1765.50M1758.50 563.50H1767.50M1774.50 557.50V550.50M1771.50 550.50H1776.50M1774.50 568.50V568.50M1771.50 568.50H1776.50M1769.50 566.50H1778.50M1784.50 553.50V537.50M1782.50 537.50H1787.50M1784.50 566.50V568.50M1782.50 568.50H1787.50M1780.50 563.50H1789.50M1795.50 554.50V548.50M1793.50 548.50H1797.50M1795.50 565.50V568.50M1793.50 568.50H1797.50M1791.50 562.50H1800.50M1806.50 555.50V541.50M1804.50 541.50H1808.50M1806.50 566.50V568.50M1804.50 568.50H1808.50M1802.50 564.50H1810.50M1817.50 561.50V558.50M1815.50 558.50H1819.50M1817.50 566.50V568.50M1815.50 568.50H1819.50M1812.50 564.50H1821.50M1828.50 559.50V549.50M1825.50 549.50H1830.50M1828.50 566.50V568.50M1825.50 568.50H1830.50M1823.50 563.50H1832.50M1838.50 559.50V554.50M1836.50 554.50H1841.50M1838.50 566.50V568.50M1836.50 568.50H1841.50M1834.50 564.50H1843.50M1849.50 559.50V546.50M1847.50 546.50H1851.50M1849.50 566.50V568.50M1847.50 568.50H1851.50M1845.50 564.50H1854.50M1860.50 559.50V554.50M1858.50 554.50H1862.50M1860.50 566.50V568.50M1858.50 568.50H1862.50M1856.50 563.50H1864.50M1871.50 560.50V558.50M1869.50 558.50H1873.50M1871.50 566.50V568.50M1869.50 568.50H1873.50M1866.50 564.50H1875.50M1882.50 562.50V560.50M1879.50 560.50H1884.50M1882.50 568.50V568.50M1879.50 568.50H1884.50M1877.50 565.50H1886.50M1892.50 560.50V560.50M1890.50 560.50H1895.50M1892.50 568.50V568.50M1890.50 568.50H1895.50M1888.50 564.50H1897.50M1903.50 562.50V562.50M1901.50 562.50H1905.50M1903.50 567.50V568.50M1901.50 568.50H1905.50M1899.50 565.50H1908.50M1914.50 562.50V557.50M1912.50 557.50H1916.50M1914.50 567.50V568.50M1912.50 568.50H1916.50M1910.50 565.50H1918.50M1925.50 563.50V563.50M1923.50 563.50H1927.50M1925.50 567.50V568.50M1923.50 568.50H1927.50M1920.50 565.50H1929.50M1936.50 562.50V561.50M1933.50 561.50H1938.50M1936.50 567.50V568.50M1933.50 568.50H1938.50M1931.50 564.50H1940.50M1946.50 567.50V567.50M1944.50 567.50H1949.50M1946.50 568.50V568.50M1944.50 568.50H1949.50M1942.50 568.50H1951.50M1957.50 557.50V549.50M1955.50 549.50H1959.50M1957.50 568.50V568.50M1955.50 568.50H1959.50M1953.50 564.50H1962.50M1968.50 562.50V559.50M1966.50 559.50H1970.50M1968.50 567.50V568.50M1966.50 568.50H1970.50M1964.50 565.50H1972.50M1979.50 565.50V565.50M1977.50 565.50H1981.50M1979.50 568.50V568.50M1977.50 568.50H1981.50M1974.50 567.50H1983.50M1990.50 564.50V563.50M1987.50 563.50H1992.50M1990.50 567.50V568.50M1987.50 568.50H1992.50M1985.50 565.50H1994.50M2000.50 565.50V563.50M1998.50 563.50H2003.50M2000.50 567.50V568.50M1998.50 568.50H2003.50M1996.50 566.50H2005.50M2011.50 564.50V563.50M2009.50 563.50H2013.50M2011.50 567.50V568.50M2009.50 568.50H2013.50M2007.50 565.50H2016.50M2022.50 567.50V567.50M2020.50 567.50H2024.50M2022.50 568.50V568.50M2020.50 568.50H2024.50M2018.50 568.50H2026.50M2033.50 567.50V567.50M2031.50 567.50H2035.50M2033.50 568.50V568.50M2031.50 568.50H2035.50M2029.50 568.50H2037.50M2044.50 565.50V561.50M2041.50 561.50H2046.50M2044.50 568.50V568.50M2041.50 568.50H2046.50M2039.50 566.50H2048.50M2054.50 560.50V557.50M2052.50 557.50H2057.50M2054.50 566.50V568.50M2052.50 568.50H2057.50M2050.50 563.50H2059.50M2065.50 566.50V566.50M2063.50 566.50H2067.50M2065.50 568.50V568.50M2063.50 568.50H2067.50M2061.50 567.50H2070.50M2076.50 568.50V568.50M2074.50 568.50H2078.50M2076.50 568.50V568.50M2074.50 568.50H2078.50M2072.50 568.50H2080.50M2087.50 568.50V568.50M2085.50 568.50H2089.50M2087.50 568.50V568.50M2085.50 568.50H2089.50M2083.50 568.50H2091.50M2098.50 565.50V565.50M2095.50 565.50H2100.50M2098.50 568.50V568.50M2095.50 568.50H2100.50M2093.50 567.50H2102.50M2108.50 568.50V568.50M2106.50 568.50H2111.50M2108.50 568.50V568.50M2106.50 568.50H2111.50M2104.50 568.50H2113.50M2119.50 564.50V564.50M2117.50 564.50H2121.50M2119.50 568.50V568.50M2117.50 568.50H2121.50M2115.50 566.50H2124.50M2130.50 565.50V564.50M2128.50 564.50H2132.50M2130.50 568.50V568.50M2128.50 568.50H2132.50M2126.50 566.50H2134.50M2141.50 568.50V568.50M2139.50 568.50H2143.50M2141.50 568.50V568.50M2139.50 568.50H2143.50M2137.50 568.50H2145.50M2152.50 556.50V554.50M2149.50 554.50H2154.50M2152.50 563.50V568.50M2149.50 568.50H2154.50M2147.50 560.50H2156.50M2173.50 568.50V568.50M2171.50 568.50H2175.50M2173.50 568.50V568.50M2171.50 568.50H2175.50M2169.50 568.50H2178.50M2184.50 568.50V568.50M2182.50 568.50H2186.50M2184.50 568.50V568.50M2182.50 568.50H2186.50M2180.50 568.50H2188.50M2195.50 568.50V568.50M2193.50 568.50H2197.50M2195.50 568.50V568.50M2193.50 568.50H2197.50M2191.50 568.50H2199.50M2206.50 562.50V562.50M2203.50 562.50H2208.50M2206.50 567.50V568.50M2203.50 568.50H2208.50M2201.50 565.50H2210.50M2216.50 568.50V568.50M2214.50 568.50H2219.50M2216.50 568.50V568.50M2214.50 568.50H2219.50M2212.50 568.50H2221.50M2227.50 563.50V563.50M2225.50 563.50H2229.50M2227.50 567.50V568.50M2225.50 568.50H2229.50M2223.50 565.50H2232.50M2238.50 566.50V566.50M2236.50 566.50H2240.50M2238.50 568.50V568.50M2236.50 568.50H2240.50M2234.50 567.50H2242.50M2249.50 568.50V568.50M2247.50 568.50H2251.50M2249.50 568.50V568.50M2247.50 568.50H2251.50M2245.50 568.50H2253.50M2260.50 566.50V566.50M2257.50 566.50H2262.50M2260.50 568.50V568.50M2257.50 568.50H2262.50M2255.50 567.50H2264.50M2270.50 565.50V565.50M2268.50 565.50H2273.50M2270.50 568.50V568.50M2268.50 568.50H2273.50M2266.50 566.50H2275.50M2281.50 566.50V563.50M2279.50 563.50H2283.50M2281.50 568.50V568.50M2279.50 568.50H2283.50M2277.50 567.50H2286.50M2292.50 568.50V568.50M2290.50 568.50H2294.50M2292.50 568.50V568.50M2290.50 568.50H2294.50M2288.50 568.50H2296.50M2303.50 566.50V565.50M2301.50 565.50H2305.50M2303.50 568.50V568.50M2301.50 568.50H2305.50M2299.50 567.50H2307.50M2314.50 564.50V564.50M2312.50 564.50H2316.50M2314.50 568.50V568.50M2312.50 568.50H2316.50M2309.50 566.50H2318.50M2324.50 565.50V563.50M2322.50 563.50H2327.50M2324.50 568.50V568.50M2322.50 568.50H2327.50M2320.50 566.50H2329.50M2335.50 564.50V563.50M2333.50 563.50H2337.50M2335.50 567.50V568.50M2333.50 568.50H2337.50M2331.50 566.50H2340.50M2346.50 565.50V563.50M2344.50 563.50H2348.50M2346.50 568.50V568.50M2344.50 568.50H2348.50M2342.50 566.50H2350.50M2357.50 563.50V559.50M2355.50 559.50H2359.50M2357.50 568.50V568.50M2355.50 568.50H2359.50M2353.50 566.50H2361.50M2368.50 555.50V553.50M2366.50 553.50H2370.50M2368.50 567.50V568.50M2366.50 568.50H2370.50M2363.50 564.50H2372.50M2378.50 554.50V536.50M2376.50 536.50H2381.50M2378.50 567.50V568.50M2376.50 568.50H2381.50M2374.50 560.50H2383.50M2389.50 546.50V531.50M2387.50 531.50H2391.50M2389.50 564.50V568.50M2387.50 568.50H2391.50M2385.50 560.50H2394.50M2400.50 556.50V552.50M2398.50 552.50H2402.50M2400.50 567.50V568.50M2398.50 568.50H2402.50M2396.50 565.50H2404.50M2411.50 560.50V555.50M2409.50 555.50H2413.50M2411.50 567.50V568.50M2409.50 568.50H2413.50M2407.50 565.50H2415.50M2422.50 541.50V533.50M2420.50 533.50H2424.50M2422.50 567.50V568.50M2420.50 568.50H2424.50M2417.50 562.50H2426.50M2432.50 552.50V540.50M2430.50 540.50H2435.50M2432.50 566.50V568.50M2430.50 568.50H2435.50M2428.50 562.50H2437.50M2443.50 545.50V522.50M2441.50 522.50H2445.50M2443.50 564.50V568.50M2441.50 568.50H2445.50M2439.50 560.50H2448.50M2454.50 553.50V542.50M2452.50 542.50H2456.50M2454.50 563.50V568.50M2452.50 568.50H2456.50M2450.50 558.50H2458.50M2465.50 552.50V539.50M2463.50 539.50H2467.50M2465.50 564.50V568.50M2463.50 568.50H2467.50M2461.50 556.50H2469.50M2476.50 543.50V515.50M2474.50 515.50H2478.50M2476.50 563.50V568.50M2474.50 568.50H2478.50M2471.50 553.50H2480.50M2486.50 535.50V491.50M2484.50 491.50H2489.50M2486.50 564.50V568.50M2484.50 568.50H2489.50M2482.50 553.50H2491.50M2497.50 544.50V521.50M2495.50 521.50H2499.50M2497.50 563.50V568.50M2495.50 568.50H2499.50M2493.50 554.50H2502.50M2508.50 537.50V506.50M2506.50 506.50H2510.50M2508.50 564.50V568.50M2506.50 568.50H2510.50M2504.50 554.50H2512.50M2519.50 529.50V507.50M2517.50 507.50H2521.50M2519.50 563.50V568.50M2517.50 568.50H2521.50M2515.50 548.50H2523.50M2530.50 530.50V526.50M2528.50 526.50H2532.50M2530.50 557.50V568.50M2528.50 568.50H2532.50M2525.50 546.50H2534.50M2540.50 530.50V505.50M2538.50 505.50H2543.50M2540.50 561.50V568.50M2538.50 568.50H2543.50M2536.50 542.50H2545.50M2551.50 534.50V523.50M2549.50 523.50H2553.50M2551.50 554.50V568.50M2549.50 568.50H2553.50M2547.50 545.50H2556.50M2562.50 518.50V502.50M2560.50 502.50H2564.50M2562.50 557.50V568.50M2560.50 568.50H2564.50M2558.50 540.50H2566.50M2573.50 525.50V514.50M2571.50 514.50H2575.50M2573.50 550.50V568.50M2571.50 568.50H2575.50M2569.50 537.50H2577.50M2584.50 512.50V472.50M2582.50 472.50H2586.50M2584.50 550.50V568.50M2582.50 568.50H2586.50M2579.50 545.50H2588.50M2594.50 497.50V433.50M2592.50 433.50H2597.50M2594.50 549.50V568.50M2592.50 568.50H2597.50M2590.50 533.50H2599.50M2605.50 494.50V429.50M2603.50 429.50H2607.50M2605.50 555.50V568.50M2603.50 568.50H2607.50M2601.50 522.50H2610.50M2616.50 500.50V452.50M2614.50 452.50H2618.50M2616.50 554.50V568.50M2614.50 568.50H2618.50M2612.50 533.50H2620.50M2627.50 496.50V442.50M2625.50 442.50H2629.50M2627.50 550.50V568.50M2625.50 568.50H2629.50M2623.50 525.50H2631.50M2638.50 504.50V485.50M2636.50 485.50H2640.50M2638.50 538.50V568.50M2636.50 568.50H2640.50M2633.50 521.50H2642.50M2649.50 461.50V410.50M2646.50 410.50H2651.50M2649.50 527.50V568.50M2646.50 568.50H2651.50M2644.50 506.50H2653.50M2659.50 457.50V353.50M2657.50 353.50H2661.50M2659.50 541.50V568.50M2657.50 568.50H2661.50M2655.50 485.50H2664.50M2670.50 452.50V389.50M2668.50 389.50H2672.50M2670.50 528.50V568.50M2668.50 568.50H2672.50M2666.50 513.50H2674.50M2681.50 455.50V372.50M2679.50 372.50H2683.50M2681.50 511.50V557.50M2679.50 557.50H2683.50M2677.50 502.50H2685.50M2692.50 465.50V419.50M2690.50 419.50H2694.50M2692.50 500.50V544.50M2690.50 544.50H2694.50M2687.50 486.50H2696.50M2703.50 429.50V385.50M2700.50 385.50H2705.50M2703.50 532.50V561.50M2700.50 561.50H2705.50M2698.50 463.50H2707.50M2713.50 429.50V392.50M2711.50 392.50H2715.50M2713.50 530.50V561.50M2711.50 561.50H2715.50M2709.50 490.50H2718.50M2724.50 403.50V313.50M2722.50 313.50H2726.50M2724.50 507.50V547.50M2722.50 547.50H2726.50M2720.50 485.50H2728.50M2735.50 399.50V248.50M2733.50 248.50H2737.50M2735.50 514.50V559.50M2733.50 559.50H2737.50M2731.50 446.50H2739.50M2746.50 422.50V316.50M2744.50 316.50H2748.50M2746.50 520.50V553.50M2744.50 553.50H2748.50M2741.50 459.50H2750.50M2757.50 429.50V336.50M2754.50 336.50H2759.50M2757.50 500.50V568.50M2754.50 568.50H2759.50M2752.50 471.50H2761.50M2767.50 440.50V394.50M2765.50 394.50H2769.50M2767.50 500.50V549.50M2765.50 549.50H2769.50M2763.50 480.50H2772.50M2778.50 415.50V235.50M2776.50 235.50H2780.50M2778.50 537.50V564.50M2776.50 564.50H2780.50M2774.50 497.50H2782.50M2789.50 425.50V385.50M2787.50 385.50H2791.50M2789.50 496.50V567.50M2787.50 567.50H2791.50M2785.50 471.50H2793.50M2800.50 407.50V265.50M2798.50 265.50H2802.50M2800.50 526.50V562.50M2798.50 562.50H2802.50M2795.50 463.50H2804.50M2811.50 442.50V351.50M2808.50 351.50H2813.50M2811.50 526.50V563.50M2808.50 563.50H2813.50M2806.50 467.50H2815.50M2821.50 441.50V351.50M2819.50 351.50H2823.50M2821.50 526.50V557.50M2819.50 557.50H2823.50M2817.50 463.50H2826.50M2832.50 432.50V290.50M2830.50 290.50H2834.50M2832.50 530.50V568.50M2830.50 568.50H2834.50M2828.50 467.50H2836.50M2843.50 435.50V370.50M2841.50 370.50H2845.50M2843.50 537.50V562.50M2841.50 562.50H2845.50M2839.50 497.50H2847.50M2854.50 459.50V459.50M2852.50 459.50H2856.50M2854.50 533.50V562.50M2852.50 562.50H2856.50M2849.50 481.50H2858.50M2865.50 442.50V410.50M2862.50 410.50H2867.50M2865.50 536.50V566.50M2862.50 566.50H2867.50M2860.50 494.50H2869.50M2875.50 470.50V385.50M2873.50 385.50H2877.50M2875.50 545.50V568.50M2873.50 568.50H2877.50M2871.50 490.50H2880.50M2886.50 468.50V353.50M2884.50 353.50H2888.50M2886.50 552.50V559.50M2884.50 559.50H2888.50M2882.50 523.50H2890.50M2897.50 441.50V398.50M2895.50 398.50H2899.50M2897.50 514.50V561.50M2895.50 561.50H2899.50M2893.50 495.50H2901.50M2908.50 439.50V381.50M2906.50 381.50H2910.50M2908.50 550.50V564.50M2906.50 564.50H2910.50M2903.50 512.50H2912.50M2919.50 486.50V444.50M2916.50 444.50H2921.50M2919.50 539.50V567.50M2916.50 567.50H2921.50M2914.50 520.50H2923.50M2929.50 477.50V418.50M2927.50 418.50H2932.50M2929.50 537.50V563.50M2927.50 563.50H2932.50M2925.50 508.50H2934.50M2940.50 479.50V386.50M2938.50 386.50H2942.50M2940.50 553.50V568.50M2938.50 568.50H2942.50M2936.50 507.50H2944.50M2951.50 457.50V378.50M2949.50 378.50H2953.50M2951.50 551.50V567.50M2949.50 567.50H2953.50M2947.50 498.50H2955.50M2962.50 504.50V462.50M2960.50 462.50H2964.50M2962.50 540.50V565.50M2960.50 565.50H2964.50M2957.50 519.50H2966.50M2973.50 507.50V498.50M2970.50 498.50H2975.50M2973.50 536.50V565.50M2970.50 565.50H2975.50M2968.50 517.50H2977.50M2983.50 498.50V476.50M2981.50 476.50H2986.50M2983.50 556.50V567.50M2981.50 567.50H2986.50M2979.50 516.50H2988.50M2994.50 486.50V429.50M2992.50 429.50H2996.50M2994.50 540.50V568.50M2992.50 568.50H2996.50M2990.50 519.50H2998.50M3005.50 527.50V513.50M3003.50 513.50H3007.50M3005.50 546.50V568.50M3003.50 568.50H3007.50M3001.50 530.50H3009.50M3016.50 516.50V479.50M3014.50 479.50H3018.50M3016.50 554.50V567.50M3014.50 567.50H3018.50M3011.50 531.50H3020.50M3027.50 496.50V416.50M3024.50 416.50H3029.50M3027.50 558.50V563.50M3024.50 563.50H3029.50M3022.50 519.50H3031.50M3037.50 488.50V446.50M3035.50 446.50H3040.50M3037.50 539.50V562.50M3035.50 562.50H3040.50M3033.50 516.50H3042.50M3048.50 496.50V446.50M3046.50 446.50H3050.50M3048.50 541.50V562.50M3046.50 562.50H3050.50M3044.50 507.50H3052.50M3059.50 506.50V460.50M3057.50 460.50H3061.50M3059.50 552.50V565.50M3057.50 565.50H3061.50M3055.50 525.50H3063.50M3070.50 513.50V465.50M3068.50 465.50H3072.50M3070.50 552.50V562.50M3068.50 562.50H3072.50M3065.50 528.50H3074.50M3081.50 513.50V479.50M3078.50 479.50H3083.50M3081.50 553.50V568.50M3078.50 568.50H3083.50M3076.50 531.50H3085.50M3091.50 526.50V516.50M3089.50 516.50H3094.50M3091.50 545.50V559.50M3089.50 559.50H3094.50M3087.50 536.50H3096.50M3102.50 504.50V490.50M3100.50 490.50H3104.50M3102.50 553.50V563.50M3100.50 563.50H3104.50M3098.50 521.50H3106.50M3113.50 515.50V461.50M3111.50 461.50H3115.50M3113.50 558.50V563.50M3111.50 563.50H3115.50M3109.50 550.50H3117.50M3124.50 517.50V482.50M3122.50 482.50H3126.50M3124.50 558.50V567.50M3122.50 567.50H3126.50M3119.50 546.50H3128.50M3135.50 510.50V468.50M3132.50 468.50H3137.50M3135.50 561.50V568.50M3132.50 568.50H3137.50M3130.50 550.50H3139.50M3145.50 507.50V466.50M3143.50 466.50H3148.50M3145.50 537.50V568.50M3143.50 568.50H3148.50M3141.50 520.50H3150.50M3156.50 516.50V476.50M3154.50 476.50H3158.50M3156.50 550.50V563.50M3154.50 563.50H3158.50M3152.50 542.50H3160.50M3167.50 532.50V522.50M3165.50 522.50H3169.50M3167.50 556.50V565.50M3165.50 565.50H3169.50M3163.50 538.50H3171.50M3178.50 538.50V531.50M3176.50 531.50H3180.50M3178.50 561.50V568.50M3176.50 568.50H3180.50M3173.50 550.50H3182.50" stroke="#454545" stroke-width="0.72" fill="none"/>
</g>
<text transform="translate(126.00 105.90) scale(0.8756 1)" font-family="Liberation Sans, sans-serif" font-size="18" fill="#262626">FN</text>
<text transform="translate(126.22 126.80) scale(0.9595 1)" font-family="Liberation Sans, sans-serif" font-size="18" fill="#262626">Set</text>
<text transform="translate(213.90 105.90) scale(0.8781 1)" font-family="Liberation Sans, sans-serif" font-size="18" fill="#262626">EM</text>
<text transform="translate(214.32 126.80) scale(0.9595 1)" font-family="Liberation Sans, sans-serif" font-size="18" fill="#262626">Set</text>
<text transform="translate(416.79 105.90) scale(0.9472 1)" font-family="Liberation Sans, sans-serif" font-size="18" fill="#262626">DM</text>
<text transform="translate(416.22 126.80) scale(0.9595 1)" font-family="Liberation Sans, sans-serif" font-size="18" fill="#262626">Set</text>
<text transform="translate(1391.90 105.90) scale(0.8781 1)" font-family="Liberation Sans, sans-serif" font-size="18" fill="#262626">PM</text>
<text transform="translate(1392.12 126.80) scale(0.9595 1)" font-family="Liberation Sans, sans-serif" font-size="18" fill="#262626">Set</text>
<text transform="translate(2530.68 105.90) scale(0.8000 1)" font-family="Liberation Sans, sans-serif" font-size="18" fill="#262626">JN</text>
<text transform="translate(2532.12 126.80) scale(0.9595 1)" font-family="Liberation Sans, sans-serif" font-size="18" fill="#262626">Set</text>
<text transform="translate(55.35 573.60) scale(0.9609 1)" font-family="Liberation Sans, sans-serif" font-size="17.0" fill="#262626">0</text>
<text transform="translate(35.74 492.60) scale(0.9911 1)" font-family="Liberation Sans, sans-serif" font-size="17.0" fill="#262626">100</text>
<text transform="translate(36.17 411.60) scale(0.9754 1)" font-family="Liberation Sans, sans-serif" font-size="17.0" fill="#262626">200</text>
<text transform="translate(36.38 330.60) scale(0.9678 1)" font-family="Liberation Sans, sans-serif" font-size="17.0" fill="#262626">300</text>
<text transform="translate(36.63 248.60) scale(0.9587 1)" font-family="Liberation Sans, sans-serif" font-size="17.0" fill="#262626">400</text>
<text transform="translate(36.34 167.60) scale(0.9693 1)" font-family="Liberation Sans, sans-serif" font-size="17.0" fill="#262626">500</text>
<text transform="translate(36.17 86.60) scale(0.9754 1)" font-family="Liberation Sans, sans-serif" font-size="17.0" fill="#262626">600</text>
<text transform="translate(82.20 660.84) rotate(-90) scale(1.0170 1)" font-family="Liberation Sans, sans-serif" font-size="17.0" fill="#262626">00:00Z</text>
<text transform="translate(147.01 660.84) rotate(-90) scale(1.0170 1)" font-family="Liberation Sans, sans-serif" font-size="17.0" fill="#262626">00:30Z</text>
<text transform="translate(211.82 660.84) rotate(-90) scale(1.0170 1)" font-family="Liberation Sans, sans-serif" font-size="17.0" fill="#262626">01:00Z</text>
<text transform="translate(276.63 660.84) rotate(-90) scale(1.0170 1)" font-family="Liberation Sans, sans-serif" font-size="17.0" fill="#262626">01:30Z</text>
<text transform="translate(341.44 660.84) rotate(-90) scale(1.0170 1)" font-family="Liberation Sans, sans-serif" font-size="17.0" fill="#262626">02:00Z</text>
<text transform="translate(406.25 660.84) rotate(-90) scale(1.0170 1)" font-family="Liberation Sans, sans-serif" font-size="17.0" fill="#262626">02:30Z</text>
<text transform="translate(471.05 660.84) rotate(-90) scale(1.0170 1)" font-family="Liberation Sans, sans-serif" font-size="17.0" fill="#262626">03:00Z</text>
<text transform="translate(535.86 660.84) rotate(-90) scale(1.0170 1)" font-family="Liberation Sans, sans-serif" font-size="17.0" fill="#262626">03:30Z</text>
<text transform="translate(600.67 660.84) rotate(-90) scale(1.0170 1)" font-family="Liberation Sans, sans-serif" font-size="17.0" fill="#262626">04:00Z</text>
<text transform="translate(665.48 660.84) rotate(-90) scale(1.0170 1)" font-family="Liberation Sans, sans-serif" font-size="17.0" fill="#262626">04:30Z</text>
<text transform="translate(730.29 660.84) rotate(-90) scale(1.0170 1)" font-family="Liberation Sans, sans-serif" font-size="17.0" fill="#262626">05:00Z</text>
<text transform="translate(795.10 660.84) rotate(-90) scale(1.0170 1)" font-family="Liberation Sans, sans-serif" font-size="17.0" fill="#262626">05:30Z</text>
<text transform="translate(859.91 660.84) rotate(-90) scale(1.0170 1)" font-family="Liberation Sans, sans-serif" font-size="17.0" fill="#262626">06:00Z</text>
<text transform="translate(924.72 660.84) rotate(-90) scale(1.0170 1)" font-family="Liberation Sans, sans-serif" font-size="17.0" fill="#262626">06:30Z</text>
<text transform="translate(989.53 660.84) rotate(-90) scale(1.0170 1)" font-family="Liberation Sans, sans-serif" font-size="17.0" fill="#262626">07:00Z</text>
<text transform="translate(1054.34 660.84) rotate(-90) scale(1.0170 1)" font-family="Liberation Sans, sans-serif" font-size="17.0" fill="#262626">07:30Z</text>
<text transform="translate(1119.14 660.84) rotate(-90) scale(1.0170 1)" font-family="Liberation Sans, sans-serif" font-size="17.0" fill="#262626">08:00Z</text>
<text transform="translate(1183.95 660.84) rotate(-90) scale(1.0170 1)" font-family="Liberation Sans, sans-serif" font-size="17.0" fill="#262626">08:30Z</text>
<text transform="translate(1248.76 660.84) rotate(-90) scale(1.0170 1)" font-family="Liberation Sans, sans-serif" font-size="17.0" fill="#262626">09:00Z</text>
<text transform="translate(1313.57 660.84) rotate(-90) scale(1.0170 1)" font-family="Liberation Sans, sans-serif" font-size="17.0" fill="#262626">09:30Z</text>
<text transform="translate(1378.38 661.14) rotate(-90) scale(1.0170 1)" font-family="Liberation Sans, sans-serif" font-size="17.0" fill="#262626">10:00Z</text>
<text transform="translate(1443.19 661.14) rotate(-90) scale(1.0170 1)" font-family="Liberation Sans, sans-serif" font-size="17.0" fill="#262626">10:30Z</text>
<text transform="translate(1508.00 660.50) rotate(-90) scale(1.0170 1)" font-family="Liberation Sans, sans-serif" font-size="17.0" fill="#262626">11:00Z</text>
<text transform="translate(1572.81 660.50) rotate(-90) scale(1.0170 1)" font-family="Liberation Sans, sans-serif" font-size="17.0" fill="#262626">11:30Z</text>
<text transform="translate(1637.62 661.14) rotate(-90) scale(1.0170 1)" font-family="Liberation Sans, sans-serif" font-size="17.0" fill="#262626">12:00Z</text>
<text transform="translate(1702.43 661.14) rotate(-90) scale(1.0170 1)" font-family="Liberation Sans, sans-serif" font-size="17.0" fill="#262626">12:30Z</text>
<text transform="translate(1767.23 661.14) rotate(-90) scale(1.0170 1)" font-family="Liberation Sans, sans-serif" font-size="17.0" fill="#262626">13:00Z</text>
<text transform="translate(1832.04 661.14) rotate(-90) scale(1.0170 1)" font-family="Liberation Sans, sans-serif" font-size="17.0" fill="#262626">13:30Z</text>
<text transform="translate(1896.85 661.14) rotate(-90) scale(1.0170 1)" font-family="Liberation Sans, sans-serif" font-size="17.0" fill="#262626">14:00Z</text>
<text transform="translate(1961.66 661.14) rotate(-90) scale(1.0170 1)" font-family="Liberation Sans, sans-serif" font-size="17.0" fill="#262626">14:30Z</text>
<text transform="translate(2026.47 661.14) rotate(-90) scale(1.0170 1)" font-family="Liberation Sans, sans-serif" font-size="17.0" fill="#262626">15:00Z</text>
<text transform="translate(2091.28 661.14) rotate(-90) scale(1.0170 1)" font-family="Liberation Sans, sans-serif" font-size="17.0" fill="#262626">15:30Z</text>
<text transform="translate(2156.09 661.14) rotate(-90) scale(1.0170 1)" font-family="Liberation Sans, sans-serif" font-size="17.0" fill="#262626">16:00Z</text>
<text transform="translate(2220.90 661.14) rotate(-90) scale(1.0170 1)" font-family="Liberation Sans, sans-serif" font-size="17.0" fill="#262626">16:30Z</text>
<text transform="translate(2285.71 661.14) rotate(-90) scale(1.0170 1)" font-family="Liberation Sans, sans-serif" font-size="17.0" fill="#262626">17:00Z</text>
<text transform="translate(2350.51 661.14) rotate(-90) scale(1.0170 1)" font-family="Liberation Sans, sans-serif" font-size="17.0" fill="#262626">17:30Z</text>
<text transform="translate(2415.32 661.14) rotate(-90) scale(1.0170 1)" font-family="Liberation Sans, sans-serif" font-size="17.0" fill="#262626">18:00Z</text>
<text transform="translate(2480.13 661.14) rotate(-90) scale(1.0170 1)" font-family="Liberation Sans, sans-serif" font-size="17.0" fill="#262626">18:30Z</text>
<text transform="translate(2544.94 661.14) rotate(-90) scale(1.0170 1)" font-family="Liberation Sans, sans-serif" font-size="17.0" fill="#262626">19:00Z</text>
<text transform="translate(2609.75 661.14) rotate(-90) scale(1.0170 1)" font-family="Liberation Sans, sans-serif" font-size="17.0" fill="#262626">19:30Z</text>
<text transform="translate(2674.56 660.93) rotate(-90) scale(1.0170 1)" font-family="Liberation Sans, sans-serif" font-size="17.0" fill="#262626">20:00Z</text>
<text transform="translate(2739.37 660.93) rotate(-90) scale(1.0170 1)" font-family="Liberation Sans, sans-serif" font-size="17.0" fill="#262626">20:30Z</text>
<text transform="translate(2804.18 660.93) rotate(-90) scale(1.0170 1)" font-family="Liberation Sans, sans-serif" font-size="17.0" fill="#262626">21:00Z</text>
<text transform="translate(2868.99 660.93) rotate(-90) scale(1.0170 1)" font-family="Liberation Sans, sans-serif" font-size="17.0" fill="#262626">21:30Z</text>
<text transform="translate(2933.80 660.93) rotate(-90) scale(1.0170 1)" font-family="Liberation Sans, sans-serif" font-size="17.0" fill="#262626">22:00Z</text>
<text transform="translate(2998.61 660.93) rotate(-90) scale(1.0170 1)" font-family="Liberation Sans, sans-serif" font-size="17.0" fill="#262626">22:30Z</text>
<text transform="translate(3063.41 660.93) rotate(-90) scale(1.0170 1)" font-family="Liberation Sans, sans-serif" font-size="17.0" fill="#262626">23:00Z</text>
<text transform="translate(3128.22 660.93) rotate(-90) scale(1.0170 1)" font-family="Liberation Sans, sans-serif" font-size="17.0" fill="#262626">23:30Z</text>
<text transform="translate(24.90 380.94) rotate(-90) scale(0.9613 1)" font-family="Liberation Sans, sans-serif" font-size="24.0" fill="#262626">Spot Count</text>
<text transform="translate(1564.37 680.90) scale(0.9768 1)" font-family="Liberation Sans, sans-serif" font-size="24.0" fill="#262626">Time of Day</text>
<text transform="translate(1365.67 24.05) scale(1.0625 1)" font-family="Liberation Sans, sans-serif" font-size="17.5" fill="#262626">Comparison of Spot Counts on 2025.07.25 to Previous 21 Days</text>
<text transform="translate(1605.40 44.80) scale(1.0654 1)" font-family="Liberation Sans, sans-serif" font-size="17.5" fill="#262626">160m</text>
</svg>
</body></html>
